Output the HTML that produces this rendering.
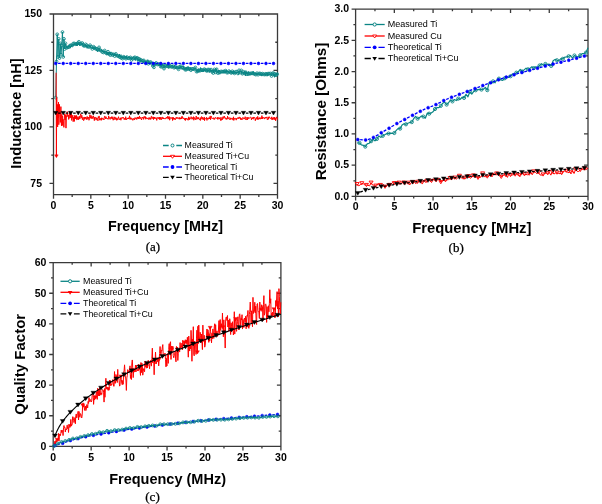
<!DOCTYPE html>
<html><head><meta charset="utf-8"><style>
html,body{margin:0;padding:0;background:#fff;}
svg{display:block;filter:blur(0.35px);}
text{font-family:"Liberation Sans",sans-serif;fill:#000;}
</style></head><body>
<svg width="602" height="504" viewBox="0 0 602 504">
<rect width="602" height="504" fill="#fff"/>
<path d="M53.5,14.0H277.5V194.7H53.5ZM53.50,194.7v4.0M53.50,14.0v4.0M90.83,194.7v4.0M90.83,14.0v4.0M128.17,194.7v4.0M128.17,14.0v4.0M165.50,194.7v4.0M165.50,14.0v4.0M202.83,194.7v4.0M202.83,14.0v4.0M240.17,194.7v4.0M240.17,14.0v4.0M277.50,194.7v4.0M277.50,14.0v4.0M72.17,194.7v2.2M72.17,14.0v2.2M109.50,194.7v2.2M109.50,14.0v2.2M146.83,194.7v2.2M146.83,14.0v2.2M184.17,194.7v2.2M184.17,14.0v2.2M221.50,194.7v2.2M221.50,14.0v2.2M258.83,194.7v2.2M258.83,14.0v2.2M53.5,183.41h-4.0M277.5,183.41h-4.0M53.5,126.94h-4.0M277.5,126.94h-4.0M53.5,70.47h-4.0M277.5,70.47h-4.0M53.5,14.00h-4.0M277.5,14.00h-4.0M53.5,155.17h-2.2M277.5,155.17h-2.2M53.5,98.70h-2.2M277.5,98.70h-2.2M53.5,42.23h-2.2M277.5,42.23h-2.2" fill="none" stroke="#3a3a3a" stroke-width="1.3"/>
<text x="53.50" y="208.6" text-anchor="middle" font-size="10.5" font-weight="bold">0</text>
<text x="90.83" y="208.6" text-anchor="middle" font-size="10.5" font-weight="bold">5</text>
<text x="128.17" y="208.6" text-anchor="middle" font-size="10.5" font-weight="bold">10</text>
<text x="165.50" y="208.6" text-anchor="middle" font-size="10.5" font-weight="bold">15</text>
<text x="202.83" y="208.6" text-anchor="middle" font-size="10.5" font-weight="bold">20</text>
<text x="240.17" y="208.6" text-anchor="middle" font-size="10.5" font-weight="bold">25</text>
<text x="277.50" y="208.6" text-anchor="middle" font-size="10.5" font-weight="bold">30</text>
<text x="42.0" y="186.71" text-anchor="end" font-size="10.5" font-weight="bold">75</text>
<text x="42.0" y="130.24" text-anchor="end" font-size="10.5" font-weight="bold">100</text>
<text x="42.0" y="73.77" text-anchor="end" font-size="10.5" font-weight="bold">125</text>
<text x="42.0" y="17.30" text-anchor="end" font-size="10.5" font-weight="bold">150</text>
<polyline points="55.74,97.57 56.49,61.43 57.23,34.33 57.98,56.92 58.73,38.85 59.47,58.05 60.22,43.36 60.97,54.66 61.71,45.62 62.46,32.07 63.21,56.92 63.95,38.85 64.70,49.01 65.45,43.36 65.82,46.46 66.19,45.54 66.57,47.74 66.94,46.64 67.31,48.18 67.69,47.39 68.06,47.92 68.43,46.01 68.81,47.09 69.18,45.26 69.55,45.31 69.93,45.61 70.30,48.16 70.67,45.85 71.05,45.22 71.42,44.96 71.79,46.74 72.17,45.48 72.54,45.98 72.91,45.71 73.29,43.53 73.66,45.56 74.03,44.61 74.41,43.50 74.78,45.08 75.15,44.48 75.53,44.17 75.90,44.16 76.27,45.56 76.65,44.04 77.02,42.56 77.39,45.81 77.77,43.08 78.14,43.91 78.51,44.77 78.89,41.81 79.26,43.24 79.63,45.49 80.01,44.10 80.38,43.60 80.75,44.53 81.13,43.62 81.50,44.55 81.87,43.81 82.25,43.04 82.62,45.53 82.99,44.64 83.37,45.50 83.74,44.94 84.11,46.54 84.49,45.97 84.86,45.65 85.23,44.52 85.61,44.36 85.98,47.26 86.35,46.77 86.73,45.24 87.10,48.32 87.47,46.70 87.85,46.39 88.22,44.96 88.59,45.71 88.97,46.97 89.34,47.13 89.71,47.11 90.09,45.22 90.46,47.54 90.83,47.52 91.21,46.90 91.58,47.55 91.95,47.76 92.33,48.92 92.70,47.80 93.07,48.41 93.45,46.72 93.82,47.43 94.19,48.32 94.57,47.66 94.94,48.93 95.31,47.48 95.69,48.81 96.06,48.27 96.43,50.51 96.81,48.79 97.18,51.21 97.55,51.72 97.93,49.89 98.30,50.69 98.67,49.60 99.05,47.37 99.42,50.96 99.79,50.84 100.17,50.02 100.54,49.81 100.91,50.68 101.29,50.83 101.66,49.92 102.03,50.24 102.41,52.11 102.78,51.15 103.15,51.14 103.53,52.49 103.90,51.12 104.27,52.50 104.65,50.54 105.02,51.54 105.39,51.77 105.77,52.66 106.14,52.24 106.51,54.48 106.89,53.61 107.26,52.04 107.63,54.97 108.01,51.72 108.38,54.77 108.75,52.05 109.13,53.98 109.50,52.26 109.87,53.10 110.25,55.10 110.62,52.06 110.99,51.95 111.37,53.77 111.74,54.11 112.11,54.09 112.49,55.12 112.86,52.89 113.23,54.85 113.61,54.40 113.98,55.34 114.35,55.26 114.73,56.10 115.10,53.34 115.47,55.04 115.85,53.87 116.22,55.05 116.59,55.95 116.97,55.63 117.34,55.99 117.71,55.45 118.09,55.98 118.46,55.99 118.83,57.30 119.21,56.74 119.58,54.06 119.95,56.77 120.33,57.29 120.70,55.81 121.07,54.68 121.45,58.00 121.82,56.68 122.19,57.24 122.57,58.60 122.94,55.86 123.31,56.79 123.69,56.76 124.06,57.77 124.43,56.49 124.81,57.69 125.18,57.31 125.55,58.48 125.93,58.67 126.30,55.87 126.67,58.02 127.05,57.19 127.42,57.63 127.79,58.16 128.17,58.31 128.54,57.09 128.91,58.22 129.29,58.12 129.66,57.99 130.03,56.76 130.41,57.39 130.78,57.79 131.15,58.93 131.53,59.93 131.90,57.36 132.27,57.42 132.65,58.74 133.02,58.04 133.39,57.84 133.77,57.85 134.14,57.82 134.51,59.45 134.89,57.29 135.26,60.48 135.63,58.18 136.01,58.66 136.38,58.31 136.75,57.25 137.13,57.77 137.50,60.82 137.87,61.51 138.25,58.75 138.62,60.90 138.99,59.85 139.37,58.97 139.74,61.85 140.11,62.46 140.49,59.87 140.86,60.20 141.23,60.61 141.61,60.38 141.98,61.48 142.35,62.31 142.73,60.88 143.10,61.89 143.47,62.74 143.85,60.41 144.22,61.14 144.59,60.71 144.97,62.39 145.34,62.11 145.71,62.60 146.09,62.57 146.46,61.45 146.83,62.65 147.21,61.47 147.58,61.59 147.95,59.79 148.33,63.75 148.70,61.27 149.07,62.48 149.45,62.50 149.82,64.22 150.19,63.20 150.57,61.95 150.94,62.98 151.31,62.89 151.69,63.41 152.06,61.88 152.43,63.31 152.81,65.86 153.18,64.26 153.55,65.79 153.93,67.34 154.30,64.36 154.67,62.35 155.05,63.89 155.42,65.36 155.79,65.18 156.17,62.93 156.54,64.12 156.91,64.32 157.29,64.52 157.66,64.50 158.03,63.71 158.41,64.07 158.78,64.53 159.15,66.02 159.53,64.34 159.90,65.75 160.27,63.81 160.65,66.55 161.02,65.33 161.39,65.25 161.77,66.80 162.14,63.42 162.51,63.77 162.89,66.00 163.26,64.67 163.63,65.17 164.01,68.60 164.38,65.43 164.75,65.83 165.13,65.73 165.50,67.09 165.87,66.23 166.25,66.18 166.62,64.69 166.99,65.71 167.37,66.14 167.74,64.46 168.11,66.86 168.49,66.73 168.86,68.39 169.23,64.61 169.61,65.34 169.98,65.44 170.35,65.77 170.73,66.45 171.10,66.38 171.47,66.95 171.85,66.94 172.22,66.70 172.59,65.10 172.97,66.22 173.34,66.96 173.71,67.60 174.09,67.71 174.46,65.22 174.83,66.51 175.21,67.05 175.58,67.56 175.95,68.47 176.33,67.33 176.70,66.32 177.07,67.79 177.45,67.65 177.82,67.69 178.19,67.36 178.57,69.33 178.94,67.84 179.31,68.58 179.69,66.67 180.06,68.58 180.43,67.11 180.81,66.08 181.18,68.21 181.55,68.58 181.93,67.73 182.30,68.00 182.67,69.16 183.05,67.57 183.42,65.86 183.79,68.48 184.17,68.46 184.54,69.46 184.91,67.97 185.29,69.79 185.66,69.68 186.03,67.03 186.41,69.54 186.78,67.35 187.15,66.90 187.53,68.37 187.90,68.09 188.27,66.55 188.65,69.03 189.02,69.52 189.39,70.43 189.77,68.90 190.14,67.32 190.51,67.95 190.89,70.15 191.26,70.09 191.63,69.74 192.01,68.89 192.38,69.49 192.75,69.06 193.13,69.01 193.50,69.73 193.87,69.48 194.25,69.24 194.62,69.61 194.99,68.99 195.37,67.48 195.74,68.96 196.11,69.61 196.49,71.61 196.86,69.31 197.23,71.98 197.61,71.41 197.98,68.89 198.35,69.09 198.73,70.09 199.10,71.89 199.47,70.41 199.85,70.78 200.22,69.33 200.59,67.53 200.97,69.86 201.34,71.02 201.71,71.49 202.09,70.26 202.46,70.42 202.83,71.55 203.21,70.14 203.58,71.60 203.95,69.07 204.33,69.15 204.70,69.15 205.07,70.94 205.45,69.85 205.82,70.60 206.19,70.92 206.57,70.88 206.94,71.99 207.31,72.18 207.69,69.67 208.06,70.81 208.43,70.37 208.81,69.51 209.18,72.62 209.55,71.57 209.93,70.51 210.30,70.29 210.67,71.18 211.05,69.61 211.42,70.56 211.79,72.18 212.17,71.89 212.54,69.95 212.91,70.35 213.29,73.04 213.66,69.40 214.03,70.27 214.41,69.44 214.78,71.42 215.15,71.34 215.53,72.30 215.90,68.18 216.27,71.26 216.65,69.29 217.02,71.84 217.39,70.95 217.77,73.04 218.14,71.61 218.51,70.08 218.89,72.63 219.26,70.03 219.63,70.88 220.01,72.46 220.38,71.87 220.75,71.85 221.13,71.41 221.50,71.98 221.87,72.33 222.25,71.76 222.62,72.60 222.99,72.92 223.37,71.54 223.74,70.51 224.11,73.26 224.49,71.55 224.86,72.31 225.23,72.70 225.61,70.66 225.98,72.23 226.35,69.98 226.73,72.57 227.10,71.28 227.47,71.99 227.85,72.61 228.22,71.12 228.59,71.98 228.97,71.15 229.34,71.90 229.71,73.10 230.09,72.01 230.46,71.86 230.83,70.86 231.21,72.99 231.58,72.03 231.95,73.95 232.33,71.29 232.70,73.27 233.07,74.11 233.45,72.16 233.82,70.87 234.19,73.86 234.57,73.39 234.94,73.03 235.31,73.48 235.69,71.80 236.06,73.17 236.43,73.09 236.81,71.64 237.18,73.17 237.55,71.86 237.93,73.46 238.30,73.76 238.67,74.48 239.05,70.33 239.42,72.82 239.79,72.20 240.17,72.54 240.54,72.34 240.91,72.49 241.29,70.41 241.66,73.77 242.03,74.37 242.41,73.78 242.78,74.17 243.15,71.84 243.53,71.78 243.90,73.82 244.27,74.33 244.65,73.18 245.02,71.23 245.39,76.01 245.77,72.25 246.14,74.09 246.51,71.72 246.89,74.14 247.26,73.26 247.63,74.67 248.01,74.09 248.38,71.45 248.75,72.11 249.13,73.51 249.50,74.06 249.87,75.24 250.25,73.57 250.62,73.19 250.99,73.27 251.37,73.30 251.74,74.49 252.11,73.32 252.49,73.31 252.86,71.83 253.23,71.20 253.61,73.49 253.98,74.22 254.35,73.45 254.73,74.09 255.10,74.26 255.47,73.51 255.85,74.64 256.22,72.80 256.59,73.62 256.97,73.25 257.34,73.76 257.71,74.39 258.09,74.66 258.46,73.88 258.83,74.25 259.21,73.39 259.58,73.68 259.95,75.23 260.33,73.63 260.70,75.25 261.07,74.45 261.45,74.10 261.82,76.13 262.19,73.71 262.57,73.66 262.94,74.03 263.31,74.35 263.69,74.31 264.06,75.01 264.43,74.23 264.81,74.57 265.18,73.86 265.55,75.34 265.93,73.73 266.30,73.86 266.67,74.20 267.05,74.55 267.42,73.45 267.79,75.97 268.17,73.59 268.54,73.85 268.91,73.83 269.29,73.73 269.66,74.92 270.03,74.49 270.41,73.50 270.78,73.75 271.15,74.02 271.53,75.98 271.90,73.68 272.27,72.98 272.65,73.18 273.02,74.07 273.39,76.11 273.77,73.31 274.14,74.55 274.51,77.27 274.89,74.00 275.26,76.12 275.63,75.92 276.01,75.19 276.38,73.05 276.75,74.92 277.13,74.21 277.50,72.56" fill="none" stroke="#0b8585" stroke-width="1.0" stroke-linejoin="round" />
<path d="M54.34,97.57a1.4,1.4 0 1,0 2.8,0a1.4,1.4 0 1,0 -2.8,0M55.09,61.43a1.4,1.4 0 1,0 2.8,0a1.4,1.4 0 1,0 -2.8,0M55.83,34.33a1.4,1.4 0 1,0 2.8,0a1.4,1.4 0 1,0 -2.8,0M56.58,56.92a1.4,1.4 0 1,0 2.8,0a1.4,1.4 0 1,0 -2.8,0M57.33,38.85a1.4,1.4 0 1,0 2.8,0a1.4,1.4 0 1,0 -2.8,0M58.07,58.05a1.4,1.4 0 1,0 2.8,0a1.4,1.4 0 1,0 -2.8,0M58.82,43.36a1.4,1.4 0 1,0 2.8,0a1.4,1.4 0 1,0 -2.8,0M59.57,54.66a1.4,1.4 0 1,0 2.8,0a1.4,1.4 0 1,0 -2.8,0M60.31,45.62a1.4,1.4 0 1,0 2.8,0a1.4,1.4 0 1,0 -2.8,0M61.06,32.07a1.4,1.4 0 1,0 2.8,0a1.4,1.4 0 1,0 -2.8,0M61.81,56.92a1.4,1.4 0 1,0 2.8,0a1.4,1.4 0 1,0 -2.8,0M62.55,38.85a1.4,1.4 0 1,0 2.8,0a1.4,1.4 0 1,0 -2.8,0M63.30,49.01a1.4,1.4 0 1,0 2.8,0a1.4,1.4 0 1,0 -2.8,0" fill="none" stroke="#0b8585" stroke-width="0.85"/>
<path d="M64.05,43.36a1.4,1.4 0 1,0 2.8,0a1.4,1.4 0 1,0 -2.8,0M65.17,47.74a1.4,1.4 0 1,0 2.8,0a1.4,1.4 0 1,0 -2.8,0M66.29,47.39a1.4,1.4 0 1,0 2.8,0a1.4,1.4 0 1,0 -2.8,0M67.41,47.09a1.4,1.4 0 1,0 2.8,0a1.4,1.4 0 1,0 -2.8,0M68.53,45.61a1.4,1.4 0 1,0 2.8,0a1.4,1.4 0 1,0 -2.8,0M69.65,45.22a1.4,1.4 0 1,0 2.8,0a1.4,1.4 0 1,0 -2.8,0M70.77,45.48a1.4,1.4 0 1,0 2.8,0a1.4,1.4 0 1,0 -2.8,0M71.89,43.53a1.4,1.4 0 1,0 2.8,0a1.4,1.4 0 1,0 -2.8,0M73.01,43.50a1.4,1.4 0 1,0 2.8,0a1.4,1.4 0 1,0 -2.8,0M74.13,44.17a1.4,1.4 0 1,0 2.8,0a1.4,1.4 0 1,0 -2.8,0M75.25,44.04a1.4,1.4 0 1,0 2.8,0a1.4,1.4 0 1,0 -2.8,0M76.37,43.08a1.4,1.4 0 1,0 2.8,0a1.4,1.4 0 1,0 -2.8,0M77.49,41.81a1.4,1.4 0 1,0 2.8,0a1.4,1.4 0 1,0 -2.8,0M78.61,44.10a1.4,1.4 0 1,0 2.8,0a1.4,1.4 0 1,0 -2.8,0M79.73,43.62a1.4,1.4 0 1,0 2.8,0a1.4,1.4 0 1,0 -2.8,0M80.85,43.04a1.4,1.4 0 1,0 2.8,0a1.4,1.4 0 1,0 -2.8,0M81.97,45.50a1.4,1.4 0 1,0 2.8,0a1.4,1.4 0 1,0 -2.8,0M83.09,45.97a1.4,1.4 0 1,0 2.8,0a1.4,1.4 0 1,0 -2.8,0M84.21,44.36a1.4,1.4 0 1,0 2.8,0a1.4,1.4 0 1,0 -2.8,0M85.33,45.24a1.4,1.4 0 1,0 2.8,0a1.4,1.4 0 1,0 -2.8,0M86.45,46.39a1.4,1.4 0 1,0 2.8,0a1.4,1.4 0 1,0 -2.8,0M87.57,46.97a1.4,1.4 0 1,0 2.8,0a1.4,1.4 0 1,0 -2.8,0M88.69,45.22a1.4,1.4 0 1,0 2.8,0a1.4,1.4 0 1,0 -2.8,0M89.81,46.90a1.4,1.4 0 1,0 2.8,0a1.4,1.4 0 1,0 -2.8,0M90.93,48.92a1.4,1.4 0 1,0 2.8,0a1.4,1.4 0 1,0 -2.8,0M92.05,46.72a1.4,1.4 0 1,0 2.8,0a1.4,1.4 0 1,0 -2.8,0M93.17,47.66a1.4,1.4 0 1,0 2.8,0a1.4,1.4 0 1,0 -2.8,0M94.29,48.81a1.4,1.4 0 1,0 2.8,0a1.4,1.4 0 1,0 -2.8,0M95.41,48.79a1.4,1.4 0 1,0 2.8,0a1.4,1.4 0 1,0 -2.8,0M96.53,49.89a1.4,1.4 0 1,0 2.8,0a1.4,1.4 0 1,0 -2.8,0M97.65,47.37a1.4,1.4 0 1,0 2.8,0a1.4,1.4 0 1,0 -2.8,0M98.77,50.02a1.4,1.4 0 1,0 2.8,0a1.4,1.4 0 1,0 -2.8,0M99.89,50.83a1.4,1.4 0 1,0 2.8,0a1.4,1.4 0 1,0 -2.8,0M101.01,52.11a1.4,1.4 0 1,0 2.8,0a1.4,1.4 0 1,0 -2.8,0M102.13,52.49a1.4,1.4 0 1,0 2.8,0a1.4,1.4 0 1,0 -2.8,0M103.25,50.54a1.4,1.4 0 1,0 2.8,0a1.4,1.4 0 1,0 -2.8,0M104.37,52.66a1.4,1.4 0 1,0 2.8,0a1.4,1.4 0 1,0 -2.8,0M105.49,53.61a1.4,1.4 0 1,0 2.8,0a1.4,1.4 0 1,0 -2.8,0M106.61,51.72a1.4,1.4 0 1,0 2.8,0a1.4,1.4 0 1,0 -2.8,0M107.73,53.98a1.4,1.4 0 1,0 2.8,0a1.4,1.4 0 1,0 -2.8,0M108.85,55.10a1.4,1.4 0 1,0 2.8,0a1.4,1.4 0 1,0 -2.8,0M109.97,53.77a1.4,1.4 0 1,0 2.8,0a1.4,1.4 0 1,0 -2.8,0M111.09,55.12a1.4,1.4 0 1,0 2.8,0a1.4,1.4 0 1,0 -2.8,0M112.21,54.40a1.4,1.4 0 1,0 2.8,0a1.4,1.4 0 1,0 -2.8,0M113.33,56.10a1.4,1.4 0 1,0 2.8,0a1.4,1.4 0 1,0 -2.8,0M114.45,53.87a1.4,1.4 0 1,0 2.8,0a1.4,1.4 0 1,0 -2.8,0M115.57,55.63a1.4,1.4 0 1,0 2.8,0a1.4,1.4 0 1,0 -2.8,0M116.69,55.98a1.4,1.4 0 1,0 2.8,0a1.4,1.4 0 1,0 -2.8,0M117.81,56.74a1.4,1.4 0 1,0 2.8,0a1.4,1.4 0 1,0 -2.8,0M118.93,57.29a1.4,1.4 0 1,0 2.8,0a1.4,1.4 0 1,0 -2.8,0M120.05,58.00a1.4,1.4 0 1,0 2.8,0a1.4,1.4 0 1,0 -2.8,0M121.17,58.60a1.4,1.4 0 1,0 2.8,0a1.4,1.4 0 1,0 -2.8,0M122.29,56.76a1.4,1.4 0 1,0 2.8,0a1.4,1.4 0 1,0 -2.8,0M123.41,57.69a1.4,1.4 0 1,0 2.8,0a1.4,1.4 0 1,0 -2.8,0M124.53,58.67a1.4,1.4 0 1,0 2.8,0a1.4,1.4 0 1,0 -2.8,0M125.65,57.19a1.4,1.4 0 1,0 2.8,0a1.4,1.4 0 1,0 -2.8,0M126.77,58.31a1.4,1.4 0 1,0 2.8,0a1.4,1.4 0 1,0 -2.8,0M127.89,58.12a1.4,1.4 0 1,0 2.8,0a1.4,1.4 0 1,0 -2.8,0M129.01,57.39a1.4,1.4 0 1,0 2.8,0a1.4,1.4 0 1,0 -2.8,0M130.13,59.93a1.4,1.4 0 1,0 2.8,0a1.4,1.4 0 1,0 -2.8,0M131.25,58.74a1.4,1.4 0 1,0 2.8,0a1.4,1.4 0 1,0 -2.8,0M132.37,57.85a1.4,1.4 0 1,0 2.8,0a1.4,1.4 0 1,0 -2.8,0M133.49,57.29a1.4,1.4 0 1,0 2.8,0a1.4,1.4 0 1,0 -2.8,0M134.61,58.66a1.4,1.4 0 1,0 2.8,0a1.4,1.4 0 1,0 -2.8,0M135.73,57.77a1.4,1.4 0 1,0 2.8,0a1.4,1.4 0 1,0 -2.8,0M136.85,58.75a1.4,1.4 0 1,0 2.8,0a1.4,1.4 0 1,0 -2.8,0M137.97,58.97a1.4,1.4 0 1,0 2.8,0a1.4,1.4 0 1,0 -2.8,0M139.09,59.87a1.4,1.4 0 1,0 2.8,0a1.4,1.4 0 1,0 -2.8,0M140.21,60.38a1.4,1.4 0 1,0 2.8,0a1.4,1.4 0 1,0 -2.8,0M141.33,60.88a1.4,1.4 0 1,0 2.8,0a1.4,1.4 0 1,0 -2.8,0M142.45,60.41a1.4,1.4 0 1,0 2.8,0a1.4,1.4 0 1,0 -2.8,0M143.57,62.39a1.4,1.4 0 1,0 2.8,0a1.4,1.4 0 1,0 -2.8,0M144.69,62.57a1.4,1.4 0 1,0 2.8,0a1.4,1.4 0 1,0 -2.8,0M145.81,61.47a1.4,1.4 0 1,0 2.8,0a1.4,1.4 0 1,0 -2.8,0M146.93,63.75a1.4,1.4 0 1,0 2.8,0a1.4,1.4 0 1,0 -2.8,0M148.05,62.50a1.4,1.4 0 1,0 2.8,0a1.4,1.4 0 1,0 -2.8,0M149.17,61.95a1.4,1.4 0 1,0 2.8,0a1.4,1.4 0 1,0 -2.8,0M150.29,63.41a1.4,1.4 0 1,0 2.8,0a1.4,1.4 0 1,0 -2.8,0M151.41,65.86a1.4,1.4 0 1,0 2.8,0a1.4,1.4 0 1,0 -2.8,0M152.53,67.34a1.4,1.4 0 1,0 2.8,0a1.4,1.4 0 1,0 -2.8,0M153.65,63.89a1.4,1.4 0 1,0 2.8,0a1.4,1.4 0 1,0 -2.8,0M154.77,62.93a1.4,1.4 0 1,0 2.8,0a1.4,1.4 0 1,0 -2.8,0M155.89,64.52a1.4,1.4 0 1,0 2.8,0a1.4,1.4 0 1,0 -2.8,0M157.01,64.07a1.4,1.4 0 1,0 2.8,0a1.4,1.4 0 1,0 -2.8,0M158.13,64.34a1.4,1.4 0 1,0 2.8,0a1.4,1.4 0 1,0 -2.8,0M159.25,66.55a1.4,1.4 0 1,0 2.8,0a1.4,1.4 0 1,0 -2.8,0M160.37,66.80a1.4,1.4 0 1,0 2.8,0a1.4,1.4 0 1,0 -2.8,0M161.49,66.00a1.4,1.4 0 1,0 2.8,0a1.4,1.4 0 1,0 -2.8,0M162.61,68.60a1.4,1.4 0 1,0 2.8,0a1.4,1.4 0 1,0 -2.8,0M163.73,65.73a1.4,1.4 0 1,0 2.8,0a1.4,1.4 0 1,0 -2.8,0M164.85,66.18a1.4,1.4 0 1,0 2.8,0a1.4,1.4 0 1,0 -2.8,0M165.97,66.14a1.4,1.4 0 1,0 2.8,0a1.4,1.4 0 1,0 -2.8,0M167.09,66.73a1.4,1.4 0 1,0 2.8,0a1.4,1.4 0 1,0 -2.8,0M168.21,65.34a1.4,1.4 0 1,0 2.8,0a1.4,1.4 0 1,0 -2.8,0M169.33,66.45a1.4,1.4 0 1,0 2.8,0a1.4,1.4 0 1,0 -2.8,0M170.45,66.94a1.4,1.4 0 1,0 2.8,0a1.4,1.4 0 1,0 -2.8,0M171.57,66.22a1.4,1.4 0 1,0 2.8,0a1.4,1.4 0 1,0 -2.8,0M172.69,67.71a1.4,1.4 0 1,0 2.8,0a1.4,1.4 0 1,0 -2.8,0M173.81,67.05a1.4,1.4 0 1,0 2.8,0a1.4,1.4 0 1,0 -2.8,0M174.93,67.33a1.4,1.4 0 1,0 2.8,0a1.4,1.4 0 1,0 -2.8,0M176.05,67.65a1.4,1.4 0 1,0 2.8,0a1.4,1.4 0 1,0 -2.8,0M177.17,69.33a1.4,1.4 0 1,0 2.8,0a1.4,1.4 0 1,0 -2.8,0M178.29,66.67a1.4,1.4 0 1,0 2.8,0a1.4,1.4 0 1,0 -2.8,0M179.41,66.08a1.4,1.4 0 1,0 2.8,0a1.4,1.4 0 1,0 -2.8,0M180.53,67.73a1.4,1.4 0 1,0 2.8,0a1.4,1.4 0 1,0 -2.8,0M181.65,67.57a1.4,1.4 0 1,0 2.8,0a1.4,1.4 0 1,0 -2.8,0M182.77,68.46a1.4,1.4 0 1,0 2.8,0a1.4,1.4 0 1,0 -2.8,0M183.89,69.79a1.4,1.4 0 1,0 2.8,0a1.4,1.4 0 1,0 -2.8,0M185.01,69.54a1.4,1.4 0 1,0 2.8,0a1.4,1.4 0 1,0 -2.8,0M186.13,68.37a1.4,1.4 0 1,0 2.8,0a1.4,1.4 0 1,0 -2.8,0M187.25,69.03a1.4,1.4 0 1,0 2.8,0a1.4,1.4 0 1,0 -2.8,0M188.37,68.90a1.4,1.4 0 1,0 2.8,0a1.4,1.4 0 1,0 -2.8,0M189.49,70.15a1.4,1.4 0 1,0 2.8,0a1.4,1.4 0 1,0 -2.8,0M190.61,68.89a1.4,1.4 0 1,0 2.8,0a1.4,1.4 0 1,0 -2.8,0M191.73,69.01a1.4,1.4 0 1,0 2.8,0a1.4,1.4 0 1,0 -2.8,0M192.85,69.24a1.4,1.4 0 1,0 2.8,0a1.4,1.4 0 1,0 -2.8,0M193.97,67.48a1.4,1.4 0 1,0 2.8,0a1.4,1.4 0 1,0 -2.8,0M195.09,71.61a1.4,1.4 0 1,0 2.8,0a1.4,1.4 0 1,0 -2.8,0M196.21,71.41a1.4,1.4 0 1,0 2.8,0a1.4,1.4 0 1,0 -2.8,0M197.33,70.09a1.4,1.4 0 1,0 2.8,0a1.4,1.4 0 1,0 -2.8,0M198.45,70.78a1.4,1.4 0 1,0 2.8,0a1.4,1.4 0 1,0 -2.8,0M199.57,69.86a1.4,1.4 0 1,0 2.8,0a1.4,1.4 0 1,0 -2.8,0M200.69,70.26a1.4,1.4 0 1,0 2.8,0a1.4,1.4 0 1,0 -2.8,0M201.81,70.14a1.4,1.4 0 1,0 2.8,0a1.4,1.4 0 1,0 -2.8,0M202.93,69.15a1.4,1.4 0 1,0 2.8,0a1.4,1.4 0 1,0 -2.8,0M204.05,69.85a1.4,1.4 0 1,0 2.8,0a1.4,1.4 0 1,0 -2.8,0M205.17,70.88a1.4,1.4 0 1,0 2.8,0a1.4,1.4 0 1,0 -2.8,0M206.29,69.67a1.4,1.4 0 1,0 2.8,0a1.4,1.4 0 1,0 -2.8,0M207.41,69.51a1.4,1.4 0 1,0 2.8,0a1.4,1.4 0 1,0 -2.8,0M208.53,70.51a1.4,1.4 0 1,0 2.8,0a1.4,1.4 0 1,0 -2.8,0M209.65,69.61a1.4,1.4 0 1,0 2.8,0a1.4,1.4 0 1,0 -2.8,0M210.77,71.89a1.4,1.4 0 1,0 2.8,0a1.4,1.4 0 1,0 -2.8,0M211.89,73.04a1.4,1.4 0 1,0 2.8,0a1.4,1.4 0 1,0 -2.8,0M213.01,69.44a1.4,1.4 0 1,0 2.8,0a1.4,1.4 0 1,0 -2.8,0M214.13,72.30a1.4,1.4 0 1,0 2.8,0a1.4,1.4 0 1,0 -2.8,0M215.25,69.29a1.4,1.4 0 1,0 2.8,0a1.4,1.4 0 1,0 -2.8,0M216.37,73.04a1.4,1.4 0 1,0 2.8,0a1.4,1.4 0 1,0 -2.8,0M217.49,72.63a1.4,1.4 0 1,0 2.8,0a1.4,1.4 0 1,0 -2.8,0M218.61,72.46a1.4,1.4 0 1,0 2.8,0a1.4,1.4 0 1,0 -2.8,0M219.73,71.41a1.4,1.4 0 1,0 2.8,0a1.4,1.4 0 1,0 -2.8,0M220.85,71.76a1.4,1.4 0 1,0 2.8,0a1.4,1.4 0 1,0 -2.8,0M221.97,71.54a1.4,1.4 0 1,0 2.8,0a1.4,1.4 0 1,0 -2.8,0M223.09,71.55a1.4,1.4 0 1,0 2.8,0a1.4,1.4 0 1,0 -2.8,0M224.21,70.66a1.4,1.4 0 1,0 2.8,0a1.4,1.4 0 1,0 -2.8,0M225.33,72.57a1.4,1.4 0 1,0 2.8,0a1.4,1.4 0 1,0 -2.8,0M226.45,72.61a1.4,1.4 0 1,0 2.8,0a1.4,1.4 0 1,0 -2.8,0M227.57,71.15a1.4,1.4 0 1,0 2.8,0a1.4,1.4 0 1,0 -2.8,0M228.69,72.01a1.4,1.4 0 1,0 2.8,0a1.4,1.4 0 1,0 -2.8,0M229.81,72.99a1.4,1.4 0 1,0 2.8,0a1.4,1.4 0 1,0 -2.8,0M230.93,71.29a1.4,1.4 0 1,0 2.8,0a1.4,1.4 0 1,0 -2.8,0M232.05,72.16a1.4,1.4 0 1,0 2.8,0a1.4,1.4 0 1,0 -2.8,0M233.17,73.39a1.4,1.4 0 1,0 2.8,0a1.4,1.4 0 1,0 -2.8,0M234.29,71.80a1.4,1.4 0 1,0 2.8,0a1.4,1.4 0 1,0 -2.8,0M235.41,71.64a1.4,1.4 0 1,0 2.8,0a1.4,1.4 0 1,0 -2.8,0M236.53,73.46a1.4,1.4 0 1,0 2.8,0a1.4,1.4 0 1,0 -2.8,0M237.65,70.33a1.4,1.4 0 1,0 2.8,0a1.4,1.4 0 1,0 -2.8,0M238.77,72.54a1.4,1.4 0 1,0 2.8,0a1.4,1.4 0 1,0 -2.8,0M239.89,70.41a1.4,1.4 0 1,0 2.8,0a1.4,1.4 0 1,0 -2.8,0M241.01,73.78a1.4,1.4 0 1,0 2.8,0a1.4,1.4 0 1,0 -2.8,0M242.13,71.78a1.4,1.4 0 1,0 2.8,0a1.4,1.4 0 1,0 -2.8,0M243.25,73.18a1.4,1.4 0 1,0 2.8,0a1.4,1.4 0 1,0 -2.8,0M244.37,72.25a1.4,1.4 0 1,0 2.8,0a1.4,1.4 0 1,0 -2.8,0M245.49,74.14a1.4,1.4 0 1,0 2.8,0a1.4,1.4 0 1,0 -2.8,0M246.61,74.09a1.4,1.4 0 1,0 2.8,0a1.4,1.4 0 1,0 -2.8,0M247.73,73.51a1.4,1.4 0 1,0 2.8,0a1.4,1.4 0 1,0 -2.8,0M248.85,73.57a1.4,1.4 0 1,0 2.8,0a1.4,1.4 0 1,0 -2.8,0M249.97,73.30a1.4,1.4 0 1,0 2.8,0a1.4,1.4 0 1,0 -2.8,0M251.09,73.31a1.4,1.4 0 1,0 2.8,0a1.4,1.4 0 1,0 -2.8,0M252.21,73.49a1.4,1.4 0 1,0 2.8,0a1.4,1.4 0 1,0 -2.8,0M253.33,74.09a1.4,1.4 0 1,0 2.8,0a1.4,1.4 0 1,0 -2.8,0M254.45,74.64a1.4,1.4 0 1,0 2.8,0a1.4,1.4 0 1,0 -2.8,0M255.57,73.25a1.4,1.4 0 1,0 2.8,0a1.4,1.4 0 1,0 -2.8,0M256.69,74.66a1.4,1.4 0 1,0 2.8,0a1.4,1.4 0 1,0 -2.8,0M257.81,73.39a1.4,1.4 0 1,0 2.8,0a1.4,1.4 0 1,0 -2.8,0M258.93,73.63a1.4,1.4 0 1,0 2.8,0a1.4,1.4 0 1,0 -2.8,0M260.05,74.10a1.4,1.4 0 1,0 2.8,0a1.4,1.4 0 1,0 -2.8,0M261.17,73.66a1.4,1.4 0 1,0 2.8,0a1.4,1.4 0 1,0 -2.8,0M262.29,74.31a1.4,1.4 0 1,0 2.8,0a1.4,1.4 0 1,0 -2.8,0M263.41,74.57a1.4,1.4 0 1,0 2.8,0a1.4,1.4 0 1,0 -2.8,0M264.53,73.73a1.4,1.4 0 1,0 2.8,0a1.4,1.4 0 1,0 -2.8,0M265.65,74.55a1.4,1.4 0 1,0 2.8,0a1.4,1.4 0 1,0 -2.8,0M266.77,73.59a1.4,1.4 0 1,0 2.8,0a1.4,1.4 0 1,0 -2.8,0M267.89,73.73a1.4,1.4 0 1,0 2.8,0a1.4,1.4 0 1,0 -2.8,0M269.01,73.50a1.4,1.4 0 1,0 2.8,0a1.4,1.4 0 1,0 -2.8,0M270.13,75.98a1.4,1.4 0 1,0 2.8,0a1.4,1.4 0 1,0 -2.8,0M271.25,73.18a1.4,1.4 0 1,0 2.8,0a1.4,1.4 0 1,0 -2.8,0M272.37,73.31a1.4,1.4 0 1,0 2.8,0a1.4,1.4 0 1,0 -2.8,0M273.49,74.00a1.4,1.4 0 1,0 2.8,0a1.4,1.4 0 1,0 -2.8,0M274.61,75.19a1.4,1.4 0 1,0 2.8,0a1.4,1.4 0 1,0 -2.8,0M275.73,74.21a1.4,1.4 0 1,0 2.8,0a1.4,1.4 0 1,0 -2.8,0" fill="none" stroke="#0b8585" stroke-width="0.85"/>
<path d="M58.10,63.47L60.70,63.47M65.61,63.47L68.21,63.47M73.12,63.47L75.72,63.47M80.63,63.47L83.23,63.47M88.14,63.47L90.74,63.47M95.65,63.47L98.25,63.47M103.16,63.47L105.76,63.47M110.67,63.47L113.27,63.47M118.18,63.47L120.78,63.47M125.69,63.47L128.29,63.47M133.20,63.47L135.80,63.47M140.71,63.47L143.31,63.47M148.22,63.47L150.82,63.47M155.73,63.47L158.33,63.47M163.24,63.47L165.84,63.47M170.76,63.47L173.36,63.47M178.27,63.47L180.87,63.47M185.78,63.47L188.38,63.47M193.29,63.47L195.89,63.47M200.80,63.47L203.40,63.47M208.31,63.47L210.91,63.47M215.82,63.47L218.42,63.47M223.33,63.47L225.93,63.47M230.84,63.47L233.44,63.47M238.35,63.47L240.95,63.47M245.86,63.47L248.46,63.47M253.37,63.47L255.97,63.47M260.88,63.47L263.48,63.47M268.39,63.47L270.99,63.47" fill="none" stroke="#0000ff" stroke-width="1.3"/>
<path d="M54.35,63.47a1.35,1.35 0 1,0 2.7,0a1.35,1.35 0 1,0 -2.7,0M61.86,63.47a1.35,1.35 0 1,0 2.7,0a1.35,1.35 0 1,0 -2.7,0M69.37,63.47a1.35,1.35 0 1,0 2.7,0a1.35,1.35 0 1,0 -2.7,0M76.88,63.47a1.35,1.35 0 1,0 2.7,0a1.35,1.35 0 1,0 -2.7,0M84.39,63.47a1.35,1.35 0 1,0 2.7,0a1.35,1.35 0 1,0 -2.7,0M91.90,63.47a1.35,1.35 0 1,0 2.7,0a1.35,1.35 0 1,0 -2.7,0M99.41,63.47a1.35,1.35 0 1,0 2.7,0a1.35,1.35 0 1,0 -2.7,0M106.92,63.47a1.35,1.35 0 1,0 2.7,0a1.35,1.35 0 1,0 -2.7,0M114.43,63.47a1.35,1.35 0 1,0 2.7,0a1.35,1.35 0 1,0 -2.7,0M121.94,63.47a1.35,1.35 0 1,0 2.7,0a1.35,1.35 0 1,0 -2.7,0M129.45,63.47a1.35,1.35 0 1,0 2.7,0a1.35,1.35 0 1,0 -2.7,0M136.96,63.47a1.35,1.35 0 1,0 2.7,0a1.35,1.35 0 1,0 -2.7,0M144.47,63.47a1.35,1.35 0 1,0 2.7,0a1.35,1.35 0 1,0 -2.7,0M151.98,63.47a1.35,1.35 0 1,0 2.7,0a1.35,1.35 0 1,0 -2.7,0M159.49,63.47a1.35,1.35 0 1,0 2.7,0a1.35,1.35 0 1,0 -2.7,0M167.01,63.47a1.35,1.35 0 1,0 2.7,0a1.35,1.35 0 1,0 -2.7,0M174.52,63.47a1.35,1.35 0 1,0 2.7,0a1.35,1.35 0 1,0 -2.7,0M182.03,63.47a1.35,1.35 0 1,0 2.7,0a1.35,1.35 0 1,0 -2.7,0M189.54,63.47a1.35,1.35 0 1,0 2.7,0a1.35,1.35 0 1,0 -2.7,0M197.05,63.47a1.35,1.35 0 1,0 2.7,0a1.35,1.35 0 1,0 -2.7,0M204.56,63.47a1.35,1.35 0 1,0 2.7,0a1.35,1.35 0 1,0 -2.7,0M212.07,63.47a1.35,1.35 0 1,0 2.7,0a1.35,1.35 0 1,0 -2.7,0M219.58,63.47a1.35,1.35 0 1,0 2.7,0a1.35,1.35 0 1,0 -2.7,0M227.09,63.47a1.35,1.35 0 1,0 2.7,0a1.35,1.35 0 1,0 -2.7,0M234.60,63.47a1.35,1.35 0 1,0 2.7,0a1.35,1.35 0 1,0 -2.7,0M242.11,63.47a1.35,1.35 0 1,0 2.7,0a1.35,1.35 0 1,0 -2.7,0M249.62,63.47a1.35,1.35 0 1,0 2.7,0a1.35,1.35 0 1,0 -2.7,0M257.13,63.47a1.35,1.35 0 1,0 2.7,0a1.35,1.35 0 1,0 -2.7,0M264.64,63.47a1.35,1.35 0 1,0 2.7,0a1.35,1.35 0 1,0 -2.7,0M272.15,63.47a1.35,1.35 0 1,0 2.7,0a1.35,1.35 0 1,0 -2.7,0" fill="#0000ff" stroke="#0000ff" stroke-width="0.7"/>
<polyline points="56.11,72.73 56.41,156.30 56.71,97.57 57.01,120.16 57.31,104.35 57.61,126.94 57.91,106.61 58.20,117.90 58.50,102.09 58.80,124.68 59.10,117.64 59.40,104.35 59.70,113.93 60.00,111.24 60.29,122.42 60.59,119.06 60.89,106.61 61.19,122.65 61.49,125.83 61.79,114.50 62.09,117.70 62.39,115.95 62.68,125.50 62.98,119.16 63.28,120.21 63.58,121.35 63.88,127.37 64.18,118.95 64.48,113.75 64.77,115.96 65.07,119.98 65.37,117.62 65.67,114.62 65.97,128.14 66.27,118.06 66.57,115.60 66.87,115.14 67.16,111.58 67.46,113.67 67.76,116.57 68.06,116.63 68.36,115.06 68.66,119.42 68.96,117.80 69.25,114.84 69.55,111.66 69.85,118.18 70.15,117.85 70.45,117.14 70.75,113.86 71.05,117.82 71.35,113.65 71.64,120.40 71.94,118.26 72.24,118.29 72.54,115.72 72.84,115.10 73.14,121.61 73.44,120.08 73.73,116.98 74.03,119.40 74.33,121.44 74.63,115.39 74.93,116.69 75.23,116.72 75.53,118.91 75.83,115.58 76.12,118.38 76.42,115.51 76.72,119.81 77.02,119.67 77.32,117.46 77.62,119.32 77.92,116.54 78.21,117.39 78.51,119.72 78.81,117.78 79.11,118.59 79.41,116.20 79.71,119.11 80.01,118.75 80.31,115.75 80.60,113.93 80.90,114.41 81.20,117.85 81.50,117.59 81.80,115.34 82.10,118.19 82.40,119.62 82.69,117.79 82.99,117.25 83.29,119.34 83.59,120.65 83.89,120.29 84.19,116.96 84.49,119.20 84.79,118.24 85.08,117.70 85.38,117.09 85.68,118.53 85.98,117.29 86.28,119.35 86.58,118.57 86.88,119.53 87.17,116.43 87.47,118.10 87.77,119.11 88.07,118.56 88.37,118.38 88.67,117.11 88.97,120.26 89.27,119.49 89.56,118.59 89.86,114.70 90.16,116.82 90.46,118.24 90.76,117.16 91.06,115.42 91.36,118.41 91.65,118.58 91.95,116.56 92.25,117.49 92.55,117.27 92.85,118.76 93.15,115.73 93.45,116.01 93.75,117.43 94.04,117.30 94.34,120.60 94.64,117.37 94.94,118.37 95.24,117.62 95.54,117.33 95.84,118.55 96.13,120.15 96.43,117.72 96.73,119.02 97.03,118.54 97.33,118.86 97.63,118.56 97.93,120.82 98.23,116.78 98.52,117.88 98.82,116.92 99.12,115.94 99.42,118.15 99.72,120.20 100.02,119.18 100.32,119.53 100.61,118.74 100.91,118.10 101.21,120.39 101.51,117.82 101.81,119.85 102.11,117.88 102.41,118.32 102.71,118.54 103.00,118.28 103.30,118.79 103.60,118.87 103.90,120.01 104.20,118.24 104.50,116.25 104.80,116.12 105.09,116.82 105.39,117.48 105.69,118.93 105.99,116.71 106.29,118.28 106.59,118.30 106.89,118.53 107.19,118.14 107.48,118.68 107.78,118.32 108.08,119.36 108.38,118.62 108.68,115.89 108.98,118.31 109.28,118.49 109.57,117.70 109.87,117.52 110.17,119.38 110.47,118.46 110.77,117.32 111.07,117.98 111.37,118.13 111.67,116.68 111.96,118.94 112.26,118.17 112.56,118.78 112.86,116.76 113.16,120.22 113.46,118.93 113.76,118.79 114.05,117.60 114.35,117.66 114.65,116.87 114.95,119.84 115.25,117.52 115.55,118.56 115.85,118.93 116.15,117.74 116.44,119.18 116.74,120.33 117.04,118.64 117.34,119.76 117.64,118.92 117.94,117.91 118.24,117.97 118.53,116.72 118.83,118.48 119.13,119.79 119.43,119.02 119.73,119.19 120.03,119.48 120.33,117.86 120.63,118.92 120.92,120.22 121.22,117.61 121.52,118.40 121.82,117.94 122.12,118.19 122.42,117.68 122.72,118.26 123.01,117.09 123.31,117.88 123.61,117.91 123.91,117.90 124.21,119.71 124.51,118.46 124.81,118.55 125.11,118.10 125.40,119.62 125.70,116.72 126.00,118.20 126.30,119.47 126.60,119.95 126.90,118.57 127.20,118.39 127.49,119.00 127.79,118.22 128.09,118.92 128.39,117.77 128.69,119.01 128.99,118.34 129.29,117.37 129.59,115.83 129.88,119.28 130.18,118.76 130.48,119.12 130.78,117.56 131.08,119.42 131.38,118.78 131.68,118.34 131.97,119.25 132.27,119.23 132.57,118.77 132.87,120.33 133.17,119.70 133.47,118.71 133.77,118.17 134.07,118.50 134.36,120.02 134.66,118.76 134.96,117.55 135.26,117.79 135.56,118.39 135.86,119.17 136.16,117.72 136.45,118.87 136.75,119.44 137.05,119.09 137.35,116.94 137.65,118.11 137.95,117.22 138.25,118.78 138.55,117.43 138.84,118.90 139.14,118.47 139.44,115.95 139.74,117.59 140.04,118.80 140.34,118.41 140.64,118.02 140.93,117.17 141.23,118.79 141.53,119.99 141.83,118.59 142.13,118.31 142.43,118.22 142.73,117.07 143.03,118.03 143.32,117.55 143.62,119.38 143.92,117.50 144.22,116.33 144.52,117.59 144.82,118.09 145.12,118.18 145.41,116.63 145.71,119.22 146.01,118.44 146.31,117.89 146.61,117.62 146.91,118.75 147.21,118.04 147.51,118.60 147.80,118.22 148.10,118.46 148.40,119.42 148.70,118.36 149.00,117.50 149.30,119.26 149.60,118.57 149.89,117.70 150.19,119.35 150.49,118.16 150.79,119.34 151.09,117.26 151.39,116.14 151.69,116.41 151.99,118.55 152.28,117.63 152.58,118.22 152.88,118.24 153.18,116.87 153.48,119.59 153.78,117.34 154.08,118.39 154.37,117.00 154.67,118.16 154.97,118.98 155.27,118.08 155.57,117.64 155.87,118.31 156.17,117.88 156.47,118.84 156.76,120.37 157.06,117.49 157.36,117.68 157.66,118.20 157.96,118.28 158.26,117.36 158.56,118.78 158.85,119.01 159.15,118.52 159.45,117.21 159.75,119.66 160.05,117.21 160.35,118.95 160.65,119.39 160.95,117.15 161.24,118.44 161.54,119.58 161.84,118.68 162.14,117.46 162.44,117.21 162.74,118.75 163.04,117.96 163.33,117.67 163.63,118.96 163.93,118.01 164.23,118.37 164.53,118.85 164.83,118.81 165.13,118.28 165.43,118.32 165.72,118.88 166.02,118.75 166.32,117.29 166.62,118.14 166.92,117.51 167.22,117.20 167.52,117.79 167.81,116.19 168.11,119.13 168.41,117.58 168.71,118.65 169.01,116.58 169.31,116.73 169.61,120.20 169.91,119.27 170.20,117.72 170.50,117.60 170.80,117.65 171.10,118.41 171.40,117.92 171.70,117.73 172.00,118.42 172.29,117.37 172.59,120.49 172.89,117.75 173.19,119.33 173.49,117.44 173.79,118.56 174.09,119.19 174.39,117.99 174.68,119.21 174.98,119.21 175.28,119.84 175.58,118.37 175.88,117.88 176.18,117.38 176.48,118.48 176.77,117.35 177.07,118.33 177.37,118.44 177.67,117.80 177.97,117.34 178.27,118.67 178.57,118.58 178.87,118.50 179.16,118.27 179.46,119.20 179.76,117.37 180.06,118.73 180.36,117.91 180.66,119.13 180.96,118.01 181.25,117.98 181.55,118.75 181.85,116.43 182.15,118.00 182.45,116.66 182.75,117.44 183.05,118.98 183.35,118.71 183.64,117.94 183.94,118.29 184.24,118.30 184.54,118.62 184.84,120.07 185.14,118.56 185.44,120.46 185.73,118.00 186.03,119.04 186.33,119.03 186.63,118.56 186.93,118.09 187.23,119.71 187.53,120.01 187.83,119.36 188.12,120.29 188.42,119.27 188.72,116.84 189.02,119.35 189.32,117.73 189.62,119.65 189.92,118.07 190.21,118.65 190.51,118.41 190.81,117.81 191.11,116.69 191.41,118.17 191.71,118.23 192.01,119.27 192.31,117.80 192.60,118.58 192.90,117.56 193.20,118.39 193.50,116.70 193.80,120.23 194.10,118.63 194.40,117.52 194.69,118.68 194.99,119.10 195.29,118.60 195.59,119.66 195.89,118.24 196.19,116.04 196.49,117.27 196.79,119.40 197.08,119.18 197.38,118.74 197.68,117.40 197.98,119.13 198.28,119.01 198.58,117.51 198.88,117.53 199.17,118.71 199.47,119.41 199.77,119.82 200.07,119.02 200.37,120.47 200.67,117.64 200.97,118.95 201.27,117.90 201.56,116.58 201.86,117.24 202.16,119.44 202.46,117.53 202.76,117.25 203.06,119.06 203.36,119.26 203.65,118.46 203.95,119.87 204.25,116.96 204.55,120.63 204.85,119.40 205.15,118.61 205.45,118.57 205.75,118.20 206.04,118.10 206.34,118.56 206.64,117.27 206.94,120.38 207.24,118.35 207.54,119.03 207.84,118.23 208.13,118.14 208.43,119.22 208.73,118.96 209.03,117.60 209.33,118.02 209.63,119.00 209.93,116.42 210.23,116.16 210.52,119.74 210.82,118.07 211.12,115.97 211.42,117.61 211.72,118.14 212.02,118.55 212.32,118.87 212.61,118.55 212.91,118.88 213.21,117.65 213.51,118.73 213.81,118.77 214.11,119.49 214.41,118.40 214.71,119.20 215.00,118.52 215.30,117.36 215.60,118.01 215.90,117.87 216.20,118.02 216.50,118.30 216.80,118.47 217.09,118.65 217.39,117.63 217.69,119.38 217.99,117.08 218.29,118.32 218.59,119.06 218.89,118.82 219.19,119.00 219.48,118.20 219.78,119.03 220.08,117.27 220.38,119.09 220.68,120.51 220.98,119.05 221.28,120.26 221.57,118.39 221.87,117.35 222.17,117.74 222.47,119.62 222.77,119.08 223.07,116.67 223.37,118.05 223.67,118.35 223.96,117.35 224.26,116.03 224.56,117.12 224.86,118.22 225.16,118.02 225.46,117.77 225.76,118.93 226.05,119.36 226.35,118.30 226.65,119.25 226.95,118.41 227.25,118.26 227.55,116.13 227.85,119.16 228.15,118.47 228.44,118.51 228.74,117.94 229.04,117.36 229.34,118.82 229.64,119.13 229.94,119.91 230.24,119.23 230.53,117.84 230.83,118.31 231.13,119.32 231.43,118.71 231.73,118.32 232.03,117.88 232.33,118.92 232.63,118.59 232.92,120.08 233.22,119.45 233.52,116.82 233.82,120.43 234.12,118.67 234.42,118.15 234.72,118.71 235.01,119.12 235.31,118.41 235.61,118.36 235.91,118.43 236.21,120.14 236.51,118.49 236.81,119.17 237.11,118.87 237.40,118.14 237.70,117.75 238.00,117.50 238.30,118.82 238.60,117.48 238.90,117.24 239.20,117.28 239.49,117.04 239.79,118.49 240.09,118.52 240.39,117.57 240.69,119.65 240.99,118.16 241.29,118.86 241.59,118.70 241.88,120.01 242.18,119.20 242.48,118.37 242.78,117.51 243.08,117.41 243.38,118.43 243.68,118.53 243.97,119.14 244.27,117.97 244.57,118.59 244.87,117.78 245.17,116.69 245.47,118.38 245.77,119.77 246.07,119.17 246.36,119.74 246.66,119.49 246.96,117.12 247.26,118.14 247.56,119.80 247.86,117.73 248.16,117.16 248.45,118.70 248.75,119.00 249.05,118.67 249.35,118.08 249.65,117.75 249.95,117.23 250.25,117.20 250.55,117.23 250.84,117.06 251.14,117.73 251.44,119.81 251.74,118.48 252.04,118.06 252.34,118.72 252.64,117.49 252.93,118.70 253.23,119.23 253.53,116.98 253.83,117.72 254.13,118.15 254.43,117.47 254.73,117.35 255.03,118.03 255.32,120.69 255.62,119.00 255.92,118.79 256.22,119.29 256.52,118.17 256.82,117.22 257.12,118.81 257.41,119.43 257.71,116.43 258.01,118.78 258.31,119.52 258.61,118.13 258.91,117.95 259.21,119.02 259.51,117.60 259.80,118.82 260.10,119.23 260.40,118.18 260.70,117.62 261.00,118.96 261.30,118.04 261.60,118.44 261.89,115.67 262.19,119.03 262.49,117.04 262.79,118.40 263.09,118.47 263.39,117.67 263.69,117.51 263.99,117.15 264.28,118.04 264.58,118.92 264.88,118.86 265.18,117.87 265.48,117.80 265.78,117.03 266.08,117.96 266.37,117.35 266.67,116.92 266.97,118.20 267.27,119.76 267.57,119.47 267.87,119.72 268.17,116.84 268.47,119.16 268.76,117.19 269.06,117.80 269.36,116.73 269.66,117.40 269.96,118.45 270.26,118.54 270.56,118.27 270.85,118.19 271.15,118.86 271.45,118.39 271.75,116.83 272.05,119.97 272.35,118.11 272.65,119.21 272.95,118.18 273.24,117.56 273.54,118.41 273.84,117.62 274.14,119.86 274.44,117.30 274.74,118.93 275.04,117.76 275.33,118.18 275.63,120.81 275.93,119.07 276.23,118.14 276.53,116.88 276.83,118.08 277.13,118.11 277.43,119.69" fill="none" stroke="#ff0000" stroke-width="1.0" stroke-linejoin="round" />
<path d="M54.61,154.86h3.6l-1.8,2.8800000000000003z" fill="#ff0000" stroke="#ff0000" stroke-width="0.4"/>
<path d="M58.10,113.16L60.70,113.16M65.61,113.16L68.21,113.16M73.12,113.16L75.72,113.16M80.63,113.16L83.23,113.16M88.14,113.16L90.74,113.16M95.65,113.16L98.25,113.16M103.16,113.16L105.76,113.16M110.67,113.16L113.27,113.16M118.18,113.16L120.78,113.16M125.69,113.16L128.29,113.16M133.20,113.16L135.80,113.16M140.71,113.16L143.31,113.16M148.22,113.16L150.82,113.16M155.73,113.16L158.33,113.16M163.24,113.16L165.84,113.16M170.76,113.16L173.36,113.16M178.27,113.16L180.87,113.16M185.78,113.16L188.38,113.16M193.29,113.16L195.89,113.16M200.80,113.16L203.40,113.16M208.31,113.16L210.91,113.16M215.82,113.16L218.42,113.16M223.33,113.16L225.93,113.16M230.84,113.16L233.44,113.16M238.35,113.16L240.95,113.16M245.86,113.16L248.46,113.16M253.37,113.16L255.97,113.16M260.88,113.16L263.48,113.16M268.39,113.16L270.99,113.16" fill="none" stroke="#000000" stroke-width="1.2"/>
<path d="M53.40,111.32h4.6l-2.3,3.6799999999999997zM60.91,111.32h4.6l-2.3,3.6799999999999997zM68.42,111.32h4.6l-2.3,3.6799999999999997zM75.93,111.32h4.6l-2.3,3.6799999999999997zM83.44,111.32h4.6l-2.3,3.6799999999999997zM90.95,111.32h4.6l-2.3,3.6799999999999997zM98.46,111.32h4.6l-2.3,3.6799999999999997zM105.97,111.32h4.6l-2.3,3.6799999999999997zM113.48,111.32h4.6l-2.3,3.6799999999999997zM120.99,111.32h4.6l-2.3,3.6799999999999997zM128.50,111.32h4.6l-2.3,3.6799999999999997zM136.01,111.32h4.6l-2.3,3.6799999999999997zM143.52,111.32h4.6l-2.3,3.6799999999999997zM151.03,111.32h4.6l-2.3,3.6799999999999997zM158.54,111.32h4.6l-2.3,3.6799999999999997zM166.06,111.32h4.6l-2.3,3.6799999999999997zM173.57,111.32h4.6l-2.3,3.6799999999999997zM181.08,111.32h4.6l-2.3,3.6799999999999997zM188.59,111.32h4.6l-2.3,3.6799999999999997zM196.10,111.32h4.6l-2.3,3.6799999999999997zM203.61,111.32h4.6l-2.3,3.6799999999999997zM211.12,111.32h4.6l-2.3,3.6799999999999997zM218.63,111.32h4.6l-2.3,3.6799999999999997zM226.14,111.32h4.6l-2.3,3.6799999999999997zM233.65,111.32h4.6l-2.3,3.6799999999999997zM241.16,111.32h4.6l-2.3,3.6799999999999997zM248.67,111.32h4.6l-2.3,3.6799999999999997zM256.18,111.32h4.6l-2.3,3.6799999999999997zM263.69,111.32h4.6l-2.3,3.6799999999999997zM271.20,111.32h4.6l-2.3,3.6799999999999997z" fill="#000000" stroke="#000000" stroke-width="0.4"/>
<path d="M163,145.5H168.7M176.3,145.5H182" stroke="#0b8585" stroke-width="1.3"/>
<circle cx="172.5" cy="145.5" r="1.5" fill="none" stroke="#0b8585" stroke-width="1"/>
<text x="184.6" y="148.25" font-size="8.75">Measured Ti</text>
<path d="M163,156.3H182" stroke="#ff0000" stroke-width="1.3"/>
<path d="M170.5,155.3h4l-2,3z" fill="#fff" stroke="#ff0000" stroke-width="0.9"/>
<text x="184.6" y="159.05" font-size="8.75">Measured Ti+Cu</text>
<path d="M163,167.0H168.7M176.3,167.0H182" stroke="#0000ff" stroke-width="1.3"/>
<circle cx="172.5" cy="167.0" r="1.9" fill="#0000ff"/>
<text x="184.6" y="169.75" font-size="8.75">Theoretical Ti</text>
<path d="M163,177.4H168.7M176.3,177.4H182" stroke="#000000" stroke-width="1.3"/>
<path d="M170.2,175.8h4.6l-2.3,3.8z" fill="#000000"/>
<text x="184.6" y="180.15" font-size="8.75">Theoretical Ti+Cu</text>
<text x="165.5" y="230.6" text-anchor="middle" font-size="14.3" font-weight="bold">Frequency [MHz]</text>
<text transform="translate(21.3,113.6) rotate(-90)" text-anchor="middle" font-size="14.6" font-weight="bold">Inductance [nH]</text>
<text x="152.9" y="251.3" text-anchor="middle" font-size="13" stroke="#000" stroke-width="0.25" style="font-family:&quot;Liberation Serif&quot;,serif">(a)</text>
<path d="M355.6,9.1H588.0V196.4H355.6ZM355.60,196.4v4.0M355.60,9.1v4.0M394.33,196.4v4.0M394.33,9.1v4.0M433.07,196.4v4.0M433.07,9.1v4.0M471.80,196.4v4.0M471.80,9.1v4.0M510.53,196.4v4.0M510.53,9.1v4.0M549.27,196.4v4.0M549.27,9.1v4.0M588.00,196.4v4.0M588.00,9.1v4.0M374.97,196.4v2.2M374.97,9.1v2.2M413.70,196.4v2.2M413.70,9.1v2.2M452.43,196.4v2.2M452.43,9.1v2.2M491.17,196.4v2.2M491.17,9.1v2.2M529.90,196.4v2.2M529.90,9.1v2.2M568.63,196.4v2.2M568.63,9.1v2.2M355.6,196.40h-4.0M588.0,196.40h-4.0M355.6,165.18h-4.0M588.0,165.18h-4.0M355.6,133.97h-4.0M588.0,133.97h-4.0M355.6,102.75h-4.0M588.0,102.75h-4.0M355.6,71.53h-4.0M588.0,71.53h-4.0M355.6,40.32h-4.0M588.0,40.32h-4.0M355.6,9.10h-4.0M588.0,9.10h-4.0M355.6,180.79h-2.2M588.0,180.79h-2.2M355.6,149.57h-2.2M588.0,149.57h-2.2M355.6,118.36h-2.2M588.0,118.36h-2.2M355.6,87.14h-2.2M588.0,87.14h-2.2M355.6,55.92h-2.2M588.0,55.92h-2.2M355.6,24.71h-2.2M588.0,24.71h-2.2" fill="none" stroke="#3a3a3a" stroke-width="1.3"/>
<text x="355.60" y="210.4" text-anchor="middle" font-size="10.5" font-weight="bold">0</text>
<text x="394.33" y="210.4" text-anchor="middle" font-size="10.5" font-weight="bold">5</text>
<text x="433.07" y="210.4" text-anchor="middle" font-size="10.5" font-weight="bold">10</text>
<text x="471.80" y="210.4" text-anchor="middle" font-size="10.5" font-weight="bold">15</text>
<text x="510.53" y="210.4" text-anchor="middle" font-size="10.5" font-weight="bold">20</text>
<text x="549.27" y="210.4" text-anchor="middle" font-size="10.5" font-weight="bold">25</text>
<text x="588.00" y="210.4" text-anchor="middle" font-size="10.5" font-weight="bold">30</text>
<text x="349.0" y="199.70" text-anchor="end" font-size="10.5" font-weight="bold">0.0</text>
<text x="349.0" y="168.48" text-anchor="end" font-size="10.5" font-weight="bold">0.5</text>
<text x="349.0" y="137.27" text-anchor="end" font-size="10.5" font-weight="bold">1.0</text>
<text x="349.0" y="106.05" text-anchor="end" font-size="10.5" font-weight="bold">1.5</text>
<text x="349.0" y="74.83" text-anchor="end" font-size="10.5" font-weight="bold">2.0</text>
<text x="349.0" y="43.62" text-anchor="end" font-size="10.5" font-weight="bold">2.5</text>
<text x="349.0" y="12.40" text-anchor="end" font-size="10.5" font-weight="bold">3.0</text>
<polyline points="357.54,142.81 359.47,142.95 361.41,144.86 363.35,145.30 365.28,146.61 367.22,143.90 369.16,143.25 371.09,141.22 373.03,139.23 374.97,140.85 376.90,138.94 378.84,135.94 380.78,137.37 382.71,135.84 384.65,134.79 386.59,133.66 388.52,133.59 390.46,133.09 392.40,133.43 394.33,133.00 396.27,130.35 398.21,128.43 400.14,128.60 402.08,125.07 404.02,123.71 405.95,124.33 407.89,123.22 409.83,122.51 411.76,122.09 413.70,118.69 415.64,116.28 417.57,118.67 419.51,117.61 421.45,115.98 423.38,116.61 425.32,118.23 427.26,113.20 429.19,113.68 431.13,113.00 433.07,111.76 435.00,109.03 436.94,107.68 438.88,107.65 440.81,105.84 442.75,103.21 444.69,102.15 446.62,104.58 448.56,102.75 450.50,99.95 452.43,101.41 454.37,99.55 456.31,100.53 458.24,98.66 460.18,99.47 462.12,97.26 464.05,97.90 465.99,94.27 467.93,96.77 469.86,91.72 471.80,94.11 473.74,91.39 475.67,90.26 477.61,89.57 479.55,89.38 481.48,89.59 483.42,89.28 485.36,87.32 487.29,90.15 489.23,82.35 491.17,83.28 493.10,81.36 495.04,82.79 496.98,79.74 498.91,78.66 500.85,79.92 502.79,80.36 504.72,78.29 506.66,76.52 508.60,77.46 510.53,76.24 512.47,73.92 514.41,74.12 516.34,72.67 518.28,71.92 520.22,69.45 522.15,71.53 524.09,69.88 526.03,68.17 527.96,69.33 529.90,68.39 531.84,66.78 533.77,68.15 535.71,66.81 537.65,67.23 539.58,65.49 541.52,63.69 543.46,65.29 545.39,63.96 547.33,64.46 549.27,64.18 551.20,65.93 553.14,60.80 555.08,59.36 557.01,60.30 558.95,60.62 560.89,58.64 562.82,58.82 564.76,57.12 566.70,56.90 568.63,56.30 570.57,55.48 572.51,58.25 574.44,55.51 576.38,56.29 578.32,56.97 580.25,55.22 582.19,53.63 584.13,53.35 586.06,52.59 588.00,47.72" fill="none" stroke="#0b8585" stroke-width="1.2" stroke-linejoin="round" />
<path d="M357.87,142.95a1.6,1.6 0 1,0 3.2,0a1.6,1.6 0 1,0 -3.2,0M363.68,146.61a1.6,1.6 0 1,0 3.2,0a1.6,1.6 0 1,0 -3.2,0M369.49,141.22a1.6,1.6 0 1,0 3.2,0a1.6,1.6 0 1,0 -3.2,0M375.30,138.94a1.6,1.6 0 1,0 3.2,0a1.6,1.6 0 1,0 -3.2,0M381.11,135.84a1.6,1.6 0 1,0 3.2,0a1.6,1.6 0 1,0 -3.2,0M386.92,133.59a1.6,1.6 0 1,0 3.2,0a1.6,1.6 0 1,0 -3.2,0M392.73,133.00a1.6,1.6 0 1,0 3.2,0a1.6,1.6 0 1,0 -3.2,0M398.54,128.60a1.6,1.6 0 1,0 3.2,0a1.6,1.6 0 1,0 -3.2,0M404.35,124.33a1.6,1.6 0 1,0 3.2,0a1.6,1.6 0 1,0 -3.2,0M410.16,122.09a1.6,1.6 0 1,0 3.2,0a1.6,1.6 0 1,0 -3.2,0M415.97,118.67a1.6,1.6 0 1,0 3.2,0a1.6,1.6 0 1,0 -3.2,0M421.78,116.61a1.6,1.6 0 1,0 3.2,0a1.6,1.6 0 1,0 -3.2,0M427.59,113.68a1.6,1.6 0 1,0 3.2,0a1.6,1.6 0 1,0 -3.2,0M433.40,109.03a1.6,1.6 0 1,0 3.2,0a1.6,1.6 0 1,0 -3.2,0M439.21,105.84a1.6,1.6 0 1,0 3.2,0a1.6,1.6 0 1,0 -3.2,0M445.02,104.58a1.6,1.6 0 1,0 3.2,0a1.6,1.6 0 1,0 -3.2,0M450.83,101.41a1.6,1.6 0 1,0 3.2,0a1.6,1.6 0 1,0 -3.2,0M456.64,98.66a1.6,1.6 0 1,0 3.2,0a1.6,1.6 0 1,0 -3.2,0M462.45,97.90a1.6,1.6 0 1,0 3.2,0a1.6,1.6 0 1,0 -3.2,0M468.26,91.72a1.6,1.6 0 1,0 3.2,0a1.6,1.6 0 1,0 -3.2,0M474.07,90.26a1.6,1.6 0 1,0 3.2,0a1.6,1.6 0 1,0 -3.2,0M479.88,89.59a1.6,1.6 0 1,0 3.2,0a1.6,1.6 0 1,0 -3.2,0M485.69,90.15a1.6,1.6 0 1,0 3.2,0a1.6,1.6 0 1,0 -3.2,0M491.50,81.36a1.6,1.6 0 1,0 3.2,0a1.6,1.6 0 1,0 -3.2,0M497.31,78.66a1.6,1.6 0 1,0 3.2,0a1.6,1.6 0 1,0 -3.2,0M503.12,78.29a1.6,1.6 0 1,0 3.2,0a1.6,1.6 0 1,0 -3.2,0M508.93,76.24a1.6,1.6 0 1,0 3.2,0a1.6,1.6 0 1,0 -3.2,0M514.74,72.67a1.6,1.6 0 1,0 3.2,0a1.6,1.6 0 1,0 -3.2,0M520.55,71.53a1.6,1.6 0 1,0 3.2,0a1.6,1.6 0 1,0 -3.2,0M526.36,69.33a1.6,1.6 0 1,0 3.2,0a1.6,1.6 0 1,0 -3.2,0M532.17,68.15a1.6,1.6 0 1,0 3.2,0a1.6,1.6 0 1,0 -3.2,0M537.98,65.49a1.6,1.6 0 1,0 3.2,0a1.6,1.6 0 1,0 -3.2,0M543.79,63.96a1.6,1.6 0 1,0 3.2,0a1.6,1.6 0 1,0 -3.2,0M549.60,65.93a1.6,1.6 0 1,0 3.2,0a1.6,1.6 0 1,0 -3.2,0M555.41,60.30a1.6,1.6 0 1,0 3.2,0a1.6,1.6 0 1,0 -3.2,0M561.22,58.82a1.6,1.6 0 1,0 3.2,0a1.6,1.6 0 1,0 -3.2,0M567.03,56.30a1.6,1.6 0 1,0 3.2,0a1.6,1.6 0 1,0 -3.2,0M572.84,55.51a1.6,1.6 0 1,0 3.2,0a1.6,1.6 0 1,0 -3.2,0M578.65,55.22a1.6,1.6 0 1,0 3.2,0a1.6,1.6 0 1,0 -3.2,0M584.46,52.59a1.6,1.6 0 1,0 3.2,0a1.6,1.6 0 1,0 -3.2,0" fill="none" stroke="#0b8585" stroke-width="0.9"/>
<polyline points="357.15,184.12 358.70,185.80 360.25,184.86 361.80,183.30 363.35,183.75 364.90,185.03 366.45,185.03 367.99,185.27 369.54,185.90 371.09,182.68 372.64,185.14 374.19,186.58 375.74,185.69 377.29,184.09 378.84,184.13 380.39,185.05 381.94,185.65 383.49,184.68 385.04,186.77 386.59,186.21 388.14,183.42 389.69,184.96 391.23,183.76 392.78,182.56 394.33,183.16 395.88,183.84 397.43,180.99 398.98,182.73 400.53,183.89 402.08,182.35 403.63,182.61 405.18,184.05 406.73,182.66 408.28,182.77 409.83,184.88 411.38,182.37 412.93,182.31 414.47,182.32 416.02,183.69 417.57,181.87 419.12,181.32 420.67,181.01 422.22,182.47 423.77,180.08 425.32,182.34 426.87,180.95 428.42,178.87 429.97,181.32 431.52,180.96 433.07,178.79 434.62,180.51 436.17,180.25 437.71,179.42 439.26,178.18 440.81,182.19 442.36,180.25 443.91,180.32 445.46,180.27 447.01,179.83 448.56,179.68 450.11,178.11 451.66,179.53 453.21,178.14 454.76,177.70 456.31,179.06 457.86,177.87 459.41,175.86 460.95,177.45 462.50,178.59 464.05,177.75 465.60,178.73 467.15,177.09 468.70,176.21 470.25,178.23 471.80,177.31 473.35,175.49 474.90,177.42 476.45,176.42 478.00,177.84 479.55,177.47 481.10,176.97 482.65,173.49 484.19,176.62 485.74,176.66 487.29,176.61 488.84,176.01 490.39,174.89 491.94,175.38 493.49,172.95 495.04,175.16 496.59,173.53 498.14,174.90 499.69,174.40 501.24,176.87 502.79,175.14 504.34,174.98 505.89,175.11 507.43,177.41 508.98,173.53 510.53,175.03 512.08,175.01 513.63,174.70 515.18,174.59 516.73,173.71 518.28,175.73 519.83,175.23 521.38,173.63 522.93,173.74 524.48,174.31 526.03,174.48 527.58,174.74 529.13,173.69 530.67,172.07 532.22,174.79 533.77,171.49 535.32,172.26 536.87,173.80 538.42,172.18 539.97,174.90 541.52,175.15 543.07,174.51 544.62,173.33 546.17,173.14 547.72,173.30 549.27,172.44 550.82,175.15 552.37,171.78 553.91,174.09 555.46,173.05 557.01,172.65 558.56,173.49 560.11,173.67 561.66,173.12 563.21,171.78 564.76,170.93 566.31,170.86 567.86,172.70 569.41,172.34 570.96,172.38 572.51,170.55 574.06,173.53 575.61,169.31 577.15,171.32 578.70,171.54 580.25,169.98 581.80,168.95 583.35,169.65 584.90,168.59 586.45,169.56 588.00,168.02" fill="none" stroke="#ff0000" stroke-width="1.0" stroke-linejoin="round" />
<path d="M355.15,182.52h4.0l-2.0,3.2zM359.80,181.70h4.0l-2.0,3.2zM364.45,183.43h4.0l-2.0,3.2zM369.09,181.08h4.0l-2.0,3.2zM373.74,184.09h4.0l-2.0,3.2zM378.39,183.45h4.0l-2.0,3.2zM383.04,185.17h4.0l-2.0,3.2zM387.69,183.36h4.0l-2.0,3.2zM392.33,181.56h4.0l-2.0,3.2zM396.98,181.13h4.0l-2.0,3.2zM401.63,181.01h4.0l-2.0,3.2zM406.28,181.17h4.0l-2.0,3.2zM410.93,180.71h4.0l-2.0,3.2zM415.57,180.27h4.0l-2.0,3.2zM420.22,180.87h4.0l-2.0,3.2zM424.87,179.35h4.0l-2.0,3.2zM429.52,179.36h4.0l-2.0,3.2zM434.17,178.65h4.0l-2.0,3.2zM438.81,180.59h4.0l-2.0,3.2zM443.46,178.67h4.0l-2.0,3.2zM448.11,176.51h4.0l-2.0,3.2zM452.76,176.10h4.0l-2.0,3.2zM457.41,174.26h4.0l-2.0,3.2zM462.05,176.15h4.0l-2.0,3.2zM466.70,174.61h4.0l-2.0,3.2zM471.35,173.89h4.0l-2.0,3.2zM476.00,176.24h4.0l-2.0,3.2zM480.65,171.89h4.0l-2.0,3.2zM485.29,175.01h4.0l-2.0,3.2zM489.94,173.78h4.0l-2.0,3.2zM494.59,171.93h4.0l-2.0,3.2zM499.24,175.27h4.0l-2.0,3.2zM503.89,173.51h4.0l-2.0,3.2zM508.53,173.43h4.0l-2.0,3.2zM513.18,172.99h4.0l-2.0,3.2zM517.83,173.63h4.0l-2.0,3.2zM522.48,172.71h4.0l-2.0,3.2zM527.13,172.09h4.0l-2.0,3.2zM531.77,169.89h4.0l-2.0,3.2zM536.42,170.58h4.0l-2.0,3.2zM541.07,172.91h4.0l-2.0,3.2zM545.72,171.70h4.0l-2.0,3.2zM550.37,170.18h4.0l-2.0,3.2zM555.01,171.05h4.0l-2.0,3.2zM559.66,171.52h4.0l-2.0,3.2zM564.31,169.26h4.0l-2.0,3.2zM568.96,170.78h4.0l-2.0,3.2zM573.61,167.71h4.0l-2.0,3.2zM578.25,168.38h4.0l-2.0,3.2zM582.90,166.99h4.0l-2.0,3.2z" fill="#fff" fill-opacity="0" stroke="#ff0000" stroke-width="0.9"/>
<path d="M360.20,139.65L362.80,139.80M368.01,139.56L370.61,138.63M375.83,136.14L378.43,134.46M383.64,131.31L386.24,129.86M391.46,126.81L394.06,125.20M399.27,122.26L401.87,120.92M407.08,118.18L409.68,116.79M414.90,114.05L417.50,112.70M422.71,110.12L425.31,108.90M430.52,106.75L433.12,105.80M438.34,103.41L440.94,102.00M446.15,99.50L448.75,98.38M453.97,96.33L456.57,95.39M461.78,93.47L464.38,92.51M469.59,90.58L472.19,89.60M477.41,87.61L480.01,86.62M485.22,84.66L487.82,83.69M493.03,81.79L495.63,80.85M500.85,78.97L503.45,78.06M508.66,76.32L511.26,75.51M516.48,73.98L519.08,73.24M524.29,71.82L526.89,71.11M532.10,69.68L534.70,68.96M539.92,67.54L542.52,66.84M547.73,65.45L550.33,64.78M555.54,63.47L558.14,62.84M563.36,61.57L565.96,60.93M571.17,59.60L573.77,58.91M578.99,57.51L581.59,56.79" fill="none" stroke="#0000ff" stroke-width="1.3"/>
<path d="M356.30,139.59a1.5,1.5 0 1,0 3.0,0a1.5,1.5 0 1,0 -3.0,0M364.11,139.90a1.5,1.5 0 1,0 3.0,0a1.5,1.5 0 1,0 -3.0,0M371.93,137.40a1.5,1.5 0 1,0 3.0,0a1.5,1.5 0 1,0 -3.0,0M379.74,132.67a1.5,1.5 0 1,0 3.0,0a1.5,1.5 0 1,0 -3.0,0M387.56,128.26a1.5,1.5 0 1,0 3.0,0a1.5,1.5 0 1,0 -3.0,0M395.37,123.55a1.5,1.5 0 1,0 3.0,0a1.5,1.5 0 1,0 -3.0,0M403.18,119.46a1.5,1.5 0 1,0 3.0,0a1.5,1.5 0 1,0 -3.0,0M411.00,115.31a1.5,1.5 0 1,0 3.0,0a1.5,1.5 0 1,0 -3.0,0M418.81,111.29a1.5,1.5 0 1,0 3.0,0a1.5,1.5 0 1,0 -3.0,0M426.62,107.67a1.5,1.5 0 1,0 3.0,0a1.5,1.5 0 1,0 -3.0,0M434.44,104.62a1.5,1.5 0 1,0 3.0,0a1.5,1.5 0 1,0 -3.0,0M442.25,100.59a1.5,1.5 0 1,0 3.0,0a1.5,1.5 0 1,0 -3.0,0M450.07,97.24a1.5,1.5 0 1,0 3.0,0a1.5,1.5 0 1,0 -3.0,0M457.88,94.36a1.5,1.5 0 1,0 3.0,0a1.5,1.5 0 1,0 -3.0,0M465.69,91.47a1.5,1.5 0 1,0 3.0,0a1.5,1.5 0 1,0 -3.0,0M473.51,88.53a1.5,1.5 0 1,0 3.0,0a1.5,1.5 0 1,0 -3.0,0M481.32,85.56a1.5,1.5 0 1,0 3.0,0a1.5,1.5 0 1,0 -3.0,0M489.13,82.67a1.5,1.5 0 1,0 3.0,0a1.5,1.5 0 1,0 -3.0,0M496.95,79.83a1.5,1.5 0 1,0 3.0,0a1.5,1.5 0 1,0 -3.0,0M504.76,77.11a1.5,1.5 0 1,0 3.0,0a1.5,1.5 0 1,0 -3.0,0M512.58,74.67a1.5,1.5 0 1,0 3.0,0a1.5,1.5 0 1,0 -3.0,0M520.39,72.47a1.5,1.5 0 1,0 3.0,0a1.5,1.5 0 1,0 -3.0,0M528.20,70.34a1.5,1.5 0 1,0 3.0,0a1.5,1.5 0 1,0 -3.0,0M536.02,68.19a1.5,1.5 0 1,0 3.0,0a1.5,1.5 0 1,0 -3.0,0M543.83,66.09a1.5,1.5 0 1,0 3.0,0a1.5,1.5 0 1,0 -3.0,0M551.64,64.07a1.5,1.5 0 1,0 3.0,0a1.5,1.5 0 1,0 -3.0,0M559.46,62.16a1.5,1.5 0 1,0 3.0,0a1.5,1.5 0 1,0 -3.0,0M567.27,60.22a1.5,1.5 0 1,0 3.0,0a1.5,1.5 0 1,0 -3.0,0M575.09,58.16a1.5,1.5 0 1,0 3.0,0a1.5,1.5 0 1,0 -3.0,0M582.90,56.01a1.5,1.5 0 1,0 3.0,0a1.5,1.5 0 1,0 -3.0,0" fill="#0000ff" stroke="#0000ff" stroke-width="0.5"/>
<path d="M360.20,192.14L362.80,191.15M368.01,189.61L370.61,188.96M375.83,187.82L378.43,187.30M383.64,186.35L386.24,185.91M391.46,185.07L394.06,184.68M399.27,183.93L401.87,183.58M407.08,182.89L409.68,182.56M414.90,181.92L417.50,181.62M422.71,181.02L425.31,180.73M430.52,180.17L433.12,179.89M438.34,179.36L440.94,179.10M446.15,178.58L448.75,178.33M453.97,177.84L456.57,177.61M461.78,177.13L464.38,176.90M469.59,176.45L472.19,176.23M477.41,175.79L480.01,175.57M485.22,175.15L487.82,174.94M493.03,174.52L495.63,174.32M500.85,173.92L503.45,173.72M508.66,173.33L511.26,173.14M516.48,172.76L519.08,172.57M524.29,172.20L526.89,172.01M532.10,171.65L534.70,171.47M539.92,171.12L542.52,170.94M547.73,170.59L550.33,170.42M555.54,170.08L558.14,169.91M563.36,169.58L565.96,169.41M571.17,169.08L573.77,168.92M578.99,168.60L581.59,168.44" fill="none" stroke="#000000" stroke-width="1.2"/>
<path d="M355.40,191.44h4.8l-2.4,3.84zM363.21,188.35h4.8l-2.4,3.84zM371.03,186.40h4.8l-2.4,3.84zM378.84,184.85h4.8l-2.4,3.84zM386.66,183.53h4.8l-2.4,3.84zM394.47,182.35h4.8l-2.4,3.84zM402.28,181.28h4.8l-2.4,3.84zM410.10,180.29h4.8l-2.4,3.84zM417.91,179.37h4.8l-2.4,3.84zM425.72,178.50h4.8l-2.4,3.84zM433.54,177.68h4.8l-2.4,3.84zM441.35,176.90h4.8l-2.4,3.84zM449.17,176.15h4.8l-2.4,3.84zM456.98,175.43h4.8l-2.4,3.84zM464.79,174.74h4.8l-2.4,3.84zM472.61,174.07h4.8l-2.4,3.84zM480.42,173.42h4.8l-2.4,3.84zM488.23,172.79h4.8l-2.4,3.84zM496.05,172.18h4.8l-2.4,3.84zM503.86,171.59h4.8l-2.4,3.84zM511.68,171.01h4.8l-2.4,3.84zM519.49,170.45h4.8l-2.4,3.84zM527.30,169.90h4.8l-2.4,3.84zM535.12,169.36h4.8l-2.4,3.84zM542.93,168.83h4.8l-2.4,3.84zM550.74,168.32h4.8l-2.4,3.84zM558.56,167.81h4.8l-2.4,3.84zM566.37,167.31h4.8l-2.4,3.84zM574.19,166.82h4.8l-2.4,3.84zM582.00,166.35h4.8l-2.4,3.84z" fill="#000000" stroke="#000000" stroke-width="0.4"/>
<path d="M364.6,24.5H384.7" stroke="#0b8585" stroke-width="1.3"/>
<circle cx="374.65" cy="24.5" r="1.6" fill="#fff" stroke="#0b8585" stroke-width="1"/>
<text x="387.8" y="27.25" font-size="9">Measured Ti</text>
<path d="M364.6,36.0H384.7" stroke="#ff0000" stroke-width="1.3"/>
<path d="M372.65,35.0h4l-2,3z" fill="#fff" stroke="#ff0000" stroke-width="0.9"/>
<text x="387.8" y="38.75" font-size="9">Measured Cu</text>
<path d="M364.6,47.3H370.84999999999997M378.45,47.3H384.7" stroke="#0000ff" stroke-width="1.3"/>
<circle cx="374.65" cy="47.3" r="1.9" fill="#0000ff"/>
<text x="387.8" y="50.05" font-size="9">Theoretical Ti</text>
<path d="M364.6,58.5H370.84999999999997M378.45,58.5H384.7" stroke="#000000" stroke-width="1.3"/>
<path d="M372.34999999999997,56.9h4.6l-2.3,3.8z" fill="#000000"/>
<text x="387.8" y="61.25" font-size="9">Theoretical Ti+Cu</text>
<text x="471.8" y="233" text-anchor="middle" font-size="14.8" font-weight="bold">Frequency [MHz]</text>
<text transform="translate(326.2,111.5) rotate(-90)" text-anchor="middle" font-size="15.2" font-weight="bold">Resistance [Ohms]</text>
<text x="456.2" y="251.5" text-anchor="middle" font-size="13" stroke="#000" stroke-width="0.25" style="font-family:&quot;Liberation Serif&quot;,serif">(b)</text>
<path d="M53.2,262.6H280.9V446.4H53.2ZM53.20,446.4v4.0M53.20,262.6v4.0M91.15,446.4v4.0M91.15,262.6v4.0M129.10,446.4v4.0M129.10,262.6v4.0M167.05,446.4v4.0M167.05,262.6v4.0M205.00,446.4v4.0M205.00,262.6v4.0M242.95,446.4v4.0M242.95,262.6v4.0M280.90,446.4v4.0M280.90,262.6v4.0M72.17,446.4v2.2M72.17,262.6v2.2M110.12,446.4v2.2M110.12,262.6v2.2M148.07,446.4v2.2M148.07,262.6v2.2M186.02,446.4v2.2M186.02,262.6v2.2M223.97,446.4v2.2M223.97,262.6v2.2M261.93,446.4v2.2M261.93,262.6v2.2M53.2,446.40h-4.0M280.9,446.40h-4.0M53.2,415.77h-4.0M280.9,415.77h-4.0M53.2,385.13h-4.0M280.9,385.13h-4.0M53.2,354.50h-4.0M280.9,354.50h-4.0M53.2,323.87h-4.0M280.9,323.87h-4.0M53.2,293.23h-4.0M280.9,293.23h-4.0M53.2,262.60h-4.0M280.9,262.60h-4.0M53.2,431.08h-2.2M280.9,431.08h-2.2M53.2,400.45h-2.2M280.9,400.45h-2.2M53.2,369.82h-2.2M280.9,369.82h-2.2M53.2,339.18h-2.2M280.9,339.18h-2.2M53.2,308.55h-2.2M280.9,308.55h-2.2M53.2,277.92h-2.2M280.9,277.92h-2.2" fill="none" stroke="#3a3a3a" stroke-width="1.3"/>
<text x="53.20" y="461.0" text-anchor="middle" font-size="10.5" font-weight="bold">0</text>
<text x="91.15" y="461.0" text-anchor="middle" font-size="10.5" font-weight="bold">5</text>
<text x="129.10" y="461.0" text-anchor="middle" font-size="10.5" font-weight="bold">10</text>
<text x="167.05" y="461.0" text-anchor="middle" font-size="10.5" font-weight="bold">15</text>
<text x="205.00" y="461.0" text-anchor="middle" font-size="10.5" font-weight="bold">20</text>
<text x="242.95" y="461.0" text-anchor="middle" font-size="10.5" font-weight="bold">25</text>
<text x="280.90" y="461.0" text-anchor="middle" font-size="10.5" font-weight="bold">30</text>
<text x="46.4" y="449.70" text-anchor="end" font-size="10.5" font-weight="bold">0</text>
<text x="46.4" y="419.07" text-anchor="end" font-size="10.5" font-weight="bold">10</text>
<text x="46.4" y="388.43" text-anchor="end" font-size="10.5" font-weight="bold">20</text>
<text x="46.4" y="357.80" text-anchor="end" font-size="10.5" font-weight="bold">30</text>
<text x="46.4" y="327.17" text-anchor="end" font-size="10.5" font-weight="bold">40</text>
<text x="46.4" y="296.53" text-anchor="end" font-size="10.5" font-weight="bold">50</text>
<text x="46.4" y="265.90" text-anchor="end" font-size="10.5" font-weight="bold">60</text>
<polyline points="53.96,447.43 54.41,445.10 54.87,441.21 55.33,445.06 55.78,440.45 56.24,440.73 56.69,442.34 57.15,439.95 57.60,439.07 58.06,440.40 58.51,433.38 58.97,441.21 59.42,435.04 59.88,433.90 60.33,435.72 60.79,433.66 61.25,429.99 61.70,432.53 62.16,430.68 62.61,430.37 63.07,435.57 63.52,427.72 63.98,425.53 64.43,427.81 64.89,427.28 65.34,432.03 65.80,428.81 66.25,429.89 66.71,428.96 67.17,425.12 67.62,428.58 68.08,426.65 68.53,432.46 68.99,425.83 69.44,424.83 69.90,426.20 70.35,425.82 70.81,419.45 71.26,426.12 71.72,425.35 72.17,424.39 72.63,416.80 73.09,416.78 73.54,420.51 74.00,422.57 74.45,421.49 74.91,417.53 75.36,423.79 75.82,415.75 76.27,413.94 76.73,417.90 77.18,415.63 77.64,414.75 78.10,411.37 78.55,419.99 79.01,411.50 79.46,416.45 79.92,417.27 80.37,413.52 80.83,414.05 81.28,416.27 81.74,417.92 82.19,414.90 82.65,405.38 83.10,402.83 83.56,407.15 84.02,404.51 84.47,410.36 84.93,408.03 85.38,405.98 85.84,410.60 86.29,409.58 86.75,404.64 87.20,405.61 87.66,407.91 88.11,401.45 88.57,403.42 89.02,397.59 89.48,401.17 89.94,401.82 90.39,399.54 90.85,400.31 91.30,401.94 91.76,400.43 92.21,395.23 92.67,392.81 93.12,392.17 93.58,404.35 94.03,398.50 94.49,399.81 94.94,395.37 95.40,397.68 95.86,397.59 96.31,391.68 96.77,393.93 97.22,399.39 97.68,388.22 98.13,389.33 98.59,395.82 99.04,389.34 99.50,395.86 99.95,387.35 100.41,392.92 100.87,395.18 101.32,392.95 101.78,394.37 102.23,389.77 102.69,389.52 103.14,389.82 103.60,392.15 104.05,402.10 104.51,388.59 104.96,397.28 105.42,387.26 105.87,378.28 106.33,386.49 106.79,389.21 107.24,387.94 107.70,387.42 108.15,389.03 108.61,388.89 109.06,390.17 109.52,380.07 109.97,385.42 110.43,380.53 110.88,385.85 111.34,384.05 111.79,384.89 112.25,381.62 112.71,379.61 113.16,382.08 113.62,386.11 114.07,386.33 114.53,371.59 114.98,383.39 115.44,383.16 115.89,374.47 116.35,375.99 116.80,378.36 117.26,382.57 117.72,369.38 118.17,378.18 118.63,377.16 119.08,380.36 119.54,386.14 119.99,385.49 120.45,376.72 120.90,376.52 121.36,379.35 121.81,383.66 122.27,384.73 122.72,380.44 123.18,384.30 123.64,372.38 124.09,370.84 124.55,364.83 125.00,371.66 125.46,378.74 125.91,379.88 126.37,390.41 126.82,377.98 127.28,375.63 127.73,369.60 128.19,371.13 128.64,370.99 129.10,372.63 129.56,370.10 130.01,365.84 130.47,378.37 130.92,375.03 131.38,379.54 131.83,363.90 132.29,359.94 132.74,367.83 133.20,377.61 133.65,370.30 134.11,372.16 134.56,370.28 135.02,371.43 135.48,365.08 135.93,372.01 136.39,365.26 136.84,368.21 137.30,370.76 137.75,369.57 138.21,371.05 138.66,364.22 139.12,369.69 139.57,366.46 140.03,369.85 140.49,375.39 140.94,362.49 141.40,372.67 141.85,363.20 142.31,364.34 142.76,375.17 143.22,371.14 143.67,368.61 144.13,370.02 144.58,371.73 145.04,361.17 145.49,366.20 145.95,362.60 146.41,366.77 146.86,362.56 147.32,368.04 147.77,363.89 148.23,360.35 148.68,363.03 149.14,365.54 149.59,368.75 150.05,361.67 150.50,360.46 150.96,363.54 151.41,366.12 151.87,358.68 152.33,348.18 152.78,362.88 153.24,359.12 153.69,358.67 154.15,374.75 154.60,359.00 155.06,364.00 155.51,352.14 155.97,361.04 156.42,363.74 156.88,360.40 157.33,358.02 157.79,361.87 158.25,358.80 158.70,365.90 159.16,359.33 159.61,353.47 160.07,346.50 160.52,353.40 160.98,355.64 161.43,350.25 161.89,350.95 162.34,347.06 162.80,344.59 163.25,356.75 163.71,354.39 164.17,354.62 164.62,353.70 165.08,353.03 165.53,359.49 165.99,366.87 166.44,358.43 166.90,366.02 167.35,353.74 167.81,353.89 168.26,363.39 168.72,349.49 169.18,343.71 169.63,352.49 170.09,343.13 170.54,341.72 171.00,359.45 171.45,346.14 171.91,349.40 172.36,349.32 172.82,346.08 173.27,355.57 173.73,357.75 174.18,355.79 174.64,355.16 175.10,351.08 175.55,358.87 176.01,361.83 176.46,346.44 176.92,350.07 177.37,347.17 177.83,360.47 178.28,353.69 178.74,352.13 179.19,348.41 179.65,351.90 180.10,342.60 180.56,348.33 181.02,347.67 181.47,347.41 181.93,343.10 182.38,349.99 182.84,340.18 183.29,343.96 183.75,345.60 184.20,345.85 184.66,342.97 185.11,339.76 185.57,339.97 186.02,343.22 186.48,339.96 186.94,344.38 187.39,337.25 187.85,345.00 188.30,357.18 188.76,336.08 189.21,343.42 189.67,351.07 190.12,344.89 190.58,348.91 191.03,330.32 191.49,339.99 191.95,361.27 192.40,339.28 192.86,344.92 193.31,326.69 193.77,354.46 194.22,355.81 194.68,341.24 195.13,343.61 195.59,343.84 196.04,354.41 196.50,338.17 196.95,330.16 197.41,352.40 197.87,326.27 198.32,343.60 198.78,325.06 199.23,336.88 199.69,340.61 200.14,332.25 200.60,335.70 201.05,342.57 201.51,334.12 201.96,341.66 202.42,349.57 202.87,325.11 203.33,340.04 203.79,341.49 204.24,335.25 204.70,347.16 205.15,345.66 205.61,340.00 206.06,339.93 206.52,335.94 206.97,328.99 207.43,339.04 207.88,329.77 208.34,331.71 208.80,342.37 209.25,333.70 209.71,341.07 210.16,327.89 210.62,331.62 211.07,334.25 211.53,342.85 211.98,333.19 212.44,338.73 212.89,328.94 213.35,334.81 213.80,338.43 214.26,326.87 214.72,323.74 215.17,336.39 215.63,324.68 216.08,334.05 216.54,333.92 216.99,330.86 217.45,336.43 217.90,334.17 218.36,332.11 218.81,320.73 219.27,320.72 219.72,333.69 220.18,319.54 220.64,330.31 221.09,327.28 221.55,323.72 222.00,327.45 222.46,313.08 222.91,327.36 223.37,336.78 223.82,319.83 224.28,331.12 224.73,330.20 225.19,348.04 225.64,321.02 226.10,317.07 226.56,317.11 227.01,320.53 227.47,315.50 227.92,327.03 228.38,320.17 228.83,331.35 229.29,328.50 229.74,318.72 230.20,323.04 230.65,334.56 231.11,322.83 231.56,326.33 232.02,330.47 232.48,321.71 232.93,327.24 233.39,335.03 233.84,331.69 234.30,311.73 234.75,334.08 235.21,321.94 235.66,319.07 236.12,318.67 236.57,331.33 237.03,324.90 237.49,321.50 237.94,316.74 238.40,326.55 238.85,329.95 239.31,314.73 239.76,313.82 240.22,318.73 240.67,325.34 241.13,318.08 241.58,319.96 242.04,314.68 242.49,329.06 242.95,319.33 243.41,321.07 243.86,327.54 244.32,318.06 244.77,319.14 245.23,322.08 245.68,316.21 246.14,328.80 246.59,319.00 247.05,315.39 247.50,316.24 247.96,310.44 248.41,326.37 248.87,328.36 249.33,314.27 249.78,311.16 250.24,302.05 250.69,312.54 251.15,322.96 251.60,310.81 252.06,322.40 252.51,326.79 252.97,297.35 253.42,313.48 253.88,310.51 254.33,311.40 254.79,302.26 255.25,313.03 255.70,306.14 256.16,322.09 256.61,324.54 257.07,304.05 257.52,303.51 257.98,310.28 258.43,312.15 258.89,312.40 259.34,318.40 259.80,302.09 260.26,308.28 260.71,309.20 261.17,309.96 261.62,304.89 262.08,305.34 262.53,306.72 262.99,320.49 263.44,304.71 263.90,295.63 264.35,315.21 264.81,313.03 265.26,304.53 265.72,303.87 266.18,306.12 266.63,322.40 267.09,306.66 267.54,318.88 268.00,316.06 268.45,305.78 268.91,311.82 269.36,303.48 269.82,289.76 270.27,303.36 270.73,298.76 271.18,315.38 271.64,313.34 272.10,316.29 272.55,312.18 273.01,316.16 273.46,312.78 273.92,309.25 274.37,314.97 274.83,317.93 275.28,317.33 275.74,300.55 276.19,306.38 276.65,298.97 277.10,291.62 277.56,308.85 278.02,301.10 278.47,316.77 278.93,288.63 279.38,296.62 279.84,307.06 280.29,314.03 280.75,302.23" fill="none" stroke="#ff0000" stroke-width="1.0" stroke-linejoin="round" />
<path d="M55.15,438.35h4.0l-2.0,3.2zM67.90,424.60h4.0l-2.0,3.2zM80.65,403.78h4.0l-2.0,3.2zM93.40,396.08h4.0l-2.0,3.2zM106.15,387.43h4.0l-2.0,3.2zM118.90,374.92h4.0l-2.0,3.2zM131.65,368.70h4.0l-2.0,3.2zM144.41,365.17h4.0l-2.0,3.2zM157.16,357.73h4.0l-2.0,3.2zM169.91,347.80h4.0l-2.0,3.2zM182.66,341.37h4.0l-2.0,3.2zM195.41,350.80h4.0l-2.0,3.2zM208.16,326.29h4.0l-2.0,3.2zM220.91,325.76h4.0l-2.0,3.2zM233.66,317.47h4.0l-2.0,3.2zM246.41,324.77h4.0l-2.0,3.2zM259.17,308.36h4.0l-2.0,3.2zM271.92,307.65h4.0l-2.0,3.2z" fill="#ff0000" stroke="#ff0000" stroke-width="0.4"/>
<path d="M57.40,444.61L60.00,443.93M65.07,442.34L67.67,441.35M72.74,439.84L75.34,439.22M80.42,437.97L83.02,437.29M88.09,436.19L90.69,435.75M95.76,434.87L98.36,434.40M103.43,433.54L106.03,433.12M111.11,432.28L113.71,431.84M118.78,430.97L121.38,430.52M126.45,429.72L129.05,429.34M134.12,428.62L136.72,428.25M141.80,427.57L144.40,427.23M149.47,426.57L152.07,426.25M157.14,425.62L159.74,425.30M164.81,424.70L167.41,424.39M172.49,423.80L175.09,423.50M180.16,422.93L182.76,422.64M187.83,422.09L190.43,421.82M195.50,421.29L198.10,421.03M203.18,420.54L205.78,420.29M210.85,419.82L213.45,419.59M218.52,419.15L221.12,418.93M226.19,418.50L228.79,418.29M233.87,417.88L236.47,417.67M241.54,417.26L244.14,417.05M249.21,416.64L251.81,416.44M256.88,416.04L259.48,415.84M264.56,415.45L267.16,415.25M272.23,414.87L274.83,414.68" fill="none" stroke="#0000ff" stroke-width="1.3"/>
<path d="M53.50,445.43a1.5,1.5 0 1,0 3.0,0a1.5,1.5 0 1,0 -3.0,0M61.17,443.19a1.5,1.5 0 1,0 3.0,0a1.5,1.5 0 1,0 -3.0,0M68.84,440.47a1.5,1.5 0 1,0 3.0,0a1.5,1.5 0 1,0 -3.0,0M76.52,438.59a1.5,1.5 0 1,0 3.0,0a1.5,1.5 0 1,0 -3.0,0M84.19,436.66a1.5,1.5 0 1,0 3.0,0a1.5,1.5 0 1,0 -3.0,0M91.86,435.30a1.5,1.5 0 1,0 3.0,0a1.5,1.5 0 1,0 -3.0,0M99.53,433.94a1.5,1.5 0 1,0 3.0,0a1.5,1.5 0 1,0 -3.0,0M107.21,432.69a1.5,1.5 0 1,0 3.0,0a1.5,1.5 0 1,0 -3.0,0M114.88,431.38a1.5,1.5 0 1,0 3.0,0a1.5,1.5 0 1,0 -3.0,0M122.55,430.09a1.5,1.5 0 1,0 3.0,0a1.5,1.5 0 1,0 -3.0,0M130.22,428.96a1.5,1.5 0 1,0 3.0,0a1.5,1.5 0 1,0 -3.0,0M137.90,427.89a1.5,1.5 0 1,0 3.0,0a1.5,1.5 0 1,0 -3.0,0M145.57,426.88a1.5,1.5 0 1,0 3.0,0a1.5,1.5 0 1,0 -3.0,0M153.24,425.91a1.5,1.5 0 1,0 3.0,0a1.5,1.5 0 1,0 -3.0,0M160.91,424.98a1.5,1.5 0 1,0 3.0,0a1.5,1.5 0 1,0 -3.0,0M168.59,424.08a1.5,1.5 0 1,0 3.0,0a1.5,1.5 0 1,0 -3.0,0M176.26,423.20a1.5,1.5 0 1,0 3.0,0a1.5,1.5 0 1,0 -3.0,0M183.93,422.35a1.5,1.5 0 1,0 3.0,0a1.5,1.5 0 1,0 -3.0,0M191.60,421.54a1.5,1.5 0 1,0 3.0,0a1.5,1.5 0 1,0 -3.0,0M199.28,420.77a1.5,1.5 0 1,0 3.0,0a1.5,1.5 0 1,0 -3.0,0M206.95,420.04a1.5,1.5 0 1,0 3.0,0a1.5,1.5 0 1,0 -3.0,0M214.62,419.35a1.5,1.5 0 1,0 3.0,0a1.5,1.5 0 1,0 -3.0,0M222.29,418.70a1.5,1.5 0 1,0 3.0,0a1.5,1.5 0 1,0 -3.0,0M229.97,418.07a1.5,1.5 0 1,0 3.0,0a1.5,1.5 0 1,0 -3.0,0M237.64,417.45a1.5,1.5 0 1,0 3.0,0a1.5,1.5 0 1,0 -3.0,0M245.31,416.84a1.5,1.5 0 1,0 3.0,0a1.5,1.5 0 1,0 -3.0,0M252.98,416.23a1.5,1.5 0 1,0 3.0,0a1.5,1.5 0 1,0 -3.0,0M260.66,415.64a1.5,1.5 0 1,0 3.0,0a1.5,1.5 0 1,0 -3.0,0M268.33,415.05a1.5,1.5 0 1,0 3.0,0a1.5,1.5 0 1,0 -3.0,0M276.00,414.48a1.5,1.5 0 1,0 3.0,0a1.5,1.5 0 1,0 -3.0,0" fill="#0000ff" stroke="#0000ff" stroke-width="0.5"/>
<polyline points="53.96,446.08 57.75,443.60 61.55,441.92 65.34,440.94 69.14,439.88 72.93,438.54 76.73,438.30 80.52,436.85 84.32,435.97 88.11,435.15 91.91,434.01 95.70,433.74 99.50,432.13 103.29,432.22 107.09,430.81 110.88,431.16 114.68,430.06 118.47,430.05 122.27,429.55 126.06,428.59 129.86,427.96 133.65,428.09 137.45,426.89 141.24,427.06 145.04,426.36 148.83,425.87 152.63,425.41 156.42,425.75 160.22,424.32 164.01,424.26 167.81,424.18 171.60,423.99 175.40,423.82 179.19,423.35 182.99,422.41 186.78,422.33 190.58,422.23 194.37,421.71 198.17,420.74 201.96,421.01 205.76,420.79 209.55,419.90 213.35,419.90 217.14,419.75 220.94,419.69 224.73,419.72 228.53,419.36 232.32,418.90 236.12,418.57 239.91,418.15 243.71,417.85 247.50,417.70 251.30,417.47 255.09,417.61 258.89,417.72 262.68,416.99 266.48,416.90 270.27,416.58 274.07,416.24 277.86,416.32" fill="none" stroke="#0b8585" stroke-width="1.1" stroke-linejoin="round" />
<path d="M52.51,446.08a1.45,1.45 0 1,0 2.9,0a1.45,1.45 0 1,0 -2.9,0M56.30,443.60a1.45,1.45 0 1,0 2.9,0a1.45,1.45 0 1,0 -2.9,0M60.10,441.92a1.45,1.45 0 1,0 2.9,0a1.45,1.45 0 1,0 -2.9,0M63.89,440.94a1.45,1.45 0 1,0 2.9,0a1.45,1.45 0 1,0 -2.9,0M67.69,439.88a1.45,1.45 0 1,0 2.9,0a1.45,1.45 0 1,0 -2.9,0M71.48,438.54a1.45,1.45 0 1,0 2.9,0a1.45,1.45 0 1,0 -2.9,0M75.28,438.30a1.45,1.45 0 1,0 2.9,0a1.45,1.45 0 1,0 -2.9,0M79.07,436.85a1.45,1.45 0 1,0 2.9,0a1.45,1.45 0 1,0 -2.9,0M82.87,435.97a1.45,1.45 0 1,0 2.9,0a1.45,1.45 0 1,0 -2.9,0M86.66,435.15a1.45,1.45 0 1,0 2.9,0a1.45,1.45 0 1,0 -2.9,0M90.46,434.01a1.45,1.45 0 1,0 2.9,0a1.45,1.45 0 1,0 -2.9,0M94.25,433.74a1.45,1.45 0 1,0 2.9,0a1.45,1.45 0 1,0 -2.9,0M98.05,432.13a1.45,1.45 0 1,0 2.9,0a1.45,1.45 0 1,0 -2.9,0M101.84,432.22a1.45,1.45 0 1,0 2.9,0a1.45,1.45 0 1,0 -2.9,0M105.64,430.81a1.45,1.45 0 1,0 2.9,0a1.45,1.45 0 1,0 -2.9,0M109.43,431.16a1.45,1.45 0 1,0 2.9,0a1.45,1.45 0 1,0 -2.9,0M113.23,430.06a1.45,1.45 0 1,0 2.9,0a1.45,1.45 0 1,0 -2.9,0M117.02,430.05a1.45,1.45 0 1,0 2.9,0a1.45,1.45 0 1,0 -2.9,0M120.82,429.55a1.45,1.45 0 1,0 2.9,0a1.45,1.45 0 1,0 -2.9,0M124.61,428.59a1.45,1.45 0 1,0 2.9,0a1.45,1.45 0 1,0 -2.9,0M128.41,427.96a1.45,1.45 0 1,0 2.9,0a1.45,1.45 0 1,0 -2.9,0M132.20,428.09a1.45,1.45 0 1,0 2.9,0a1.45,1.45 0 1,0 -2.9,0M136.00,426.89a1.45,1.45 0 1,0 2.9,0a1.45,1.45 0 1,0 -2.9,0M139.79,427.06a1.45,1.45 0 1,0 2.9,0a1.45,1.45 0 1,0 -2.9,0M143.59,426.36a1.45,1.45 0 1,0 2.9,0a1.45,1.45 0 1,0 -2.9,0M147.38,425.87a1.45,1.45 0 1,0 2.9,0a1.45,1.45 0 1,0 -2.9,0M151.18,425.41a1.45,1.45 0 1,0 2.9,0a1.45,1.45 0 1,0 -2.9,0M154.97,425.75a1.45,1.45 0 1,0 2.9,0a1.45,1.45 0 1,0 -2.9,0M158.77,424.32a1.45,1.45 0 1,0 2.9,0a1.45,1.45 0 1,0 -2.9,0M162.56,424.26a1.45,1.45 0 1,0 2.9,0a1.45,1.45 0 1,0 -2.9,0M166.36,424.18a1.45,1.45 0 1,0 2.9,0a1.45,1.45 0 1,0 -2.9,0M170.15,423.99a1.45,1.45 0 1,0 2.9,0a1.45,1.45 0 1,0 -2.9,0M173.95,423.82a1.45,1.45 0 1,0 2.9,0a1.45,1.45 0 1,0 -2.9,0M177.74,423.35a1.45,1.45 0 1,0 2.9,0a1.45,1.45 0 1,0 -2.9,0M181.54,422.41a1.45,1.45 0 1,0 2.9,0a1.45,1.45 0 1,0 -2.9,0M185.33,422.33a1.45,1.45 0 1,0 2.9,0a1.45,1.45 0 1,0 -2.9,0M189.13,422.23a1.45,1.45 0 1,0 2.9,0a1.45,1.45 0 1,0 -2.9,0M192.92,421.71a1.45,1.45 0 1,0 2.9,0a1.45,1.45 0 1,0 -2.9,0M196.72,420.74a1.45,1.45 0 1,0 2.9,0a1.45,1.45 0 1,0 -2.9,0M200.51,421.01a1.45,1.45 0 1,0 2.9,0a1.45,1.45 0 1,0 -2.9,0M204.31,420.79a1.45,1.45 0 1,0 2.9,0a1.45,1.45 0 1,0 -2.9,0M208.10,419.90a1.45,1.45 0 1,0 2.9,0a1.45,1.45 0 1,0 -2.9,0M211.90,419.90a1.45,1.45 0 1,0 2.9,0a1.45,1.45 0 1,0 -2.9,0M215.69,419.75a1.45,1.45 0 1,0 2.9,0a1.45,1.45 0 1,0 -2.9,0M219.49,419.69a1.45,1.45 0 1,0 2.9,0a1.45,1.45 0 1,0 -2.9,0M223.28,419.72a1.45,1.45 0 1,0 2.9,0a1.45,1.45 0 1,0 -2.9,0M227.08,419.36a1.45,1.45 0 1,0 2.9,0a1.45,1.45 0 1,0 -2.9,0M230.87,418.90a1.45,1.45 0 1,0 2.9,0a1.45,1.45 0 1,0 -2.9,0M234.67,418.57a1.45,1.45 0 1,0 2.9,0a1.45,1.45 0 1,0 -2.9,0M238.46,418.15a1.45,1.45 0 1,0 2.9,0a1.45,1.45 0 1,0 -2.9,0M242.26,417.85a1.45,1.45 0 1,0 2.9,0a1.45,1.45 0 1,0 -2.9,0M246.05,417.70a1.45,1.45 0 1,0 2.9,0a1.45,1.45 0 1,0 -2.9,0M249.85,417.47a1.45,1.45 0 1,0 2.9,0a1.45,1.45 0 1,0 -2.9,0M253.64,417.61a1.45,1.45 0 1,0 2.9,0a1.45,1.45 0 1,0 -2.9,0M257.44,417.72a1.45,1.45 0 1,0 2.9,0a1.45,1.45 0 1,0 -2.9,0M261.23,416.99a1.45,1.45 0 1,0 2.9,0a1.45,1.45 0 1,0 -2.9,0M265.03,416.90a1.45,1.45 0 1,0 2.9,0a1.45,1.45 0 1,0 -2.9,0M268.82,416.58a1.45,1.45 0 1,0 2.9,0a1.45,1.45 0 1,0 -2.9,0M272.62,416.24a1.45,1.45 0 1,0 2.9,0a1.45,1.45 0 1,0 -2.9,0M276.41,416.32a1.45,1.45 0 1,0 2.9,0a1.45,1.45 0 1,0 -2.9,0" fill="none" stroke="#0b8585" stroke-width="0.85"/>
<polyline points="54.72,436.83 55.47,434.57 56.23,432.65 56.99,430.95 57.74,429.40 58.50,427.97 59.26,426.64 60.01,425.38 60.77,424.19 61.53,423.05 62.28,421.97 63.04,420.92 63.80,419.91 64.55,418.94 65.31,417.99 66.06,417.08 66.82,416.19 67.58,415.32 68.33,414.47 69.09,413.64 69.85,412.84 70.60,412.05 71.36,411.27 72.12,410.51 72.87,409.77 73.63,409.04 74.39,408.32 75.14,407.61 75.90,406.92 76.66,406.23 77.41,405.56 78.17,404.89 78.92,404.24 79.68,403.59 80.44,402.96 81.19,402.33 81.95,401.71 82.71,401.10 83.46,400.49 84.22,399.89 84.98,399.30 85.73,398.72 86.49,398.14 87.25,397.57 88.00,397.00 88.76,396.44 89.52,395.89 90.27,395.34 91.03,394.80 91.78,394.26 92.54,393.73 93.30,393.20 94.05,392.68 94.81,392.16 95.57,391.64 96.32,391.13 97.08,390.63 97.84,390.12 98.59,389.63 99.35,389.13 100.11,388.64 100.86,388.16 101.62,387.67 102.38,387.19 103.13,386.72 103.89,386.25 104.64,385.78 105.40,385.31 106.16,384.85 106.91,384.39 107.67,383.94 108.43,383.48 109.18,383.03 109.94,382.59 110.70,382.14 111.45,381.70 112.21,381.26 112.97,380.82 113.72,380.39 114.48,379.96 115.23,379.53 115.99,379.10 116.75,378.68 117.50,378.26 118.26,377.84 119.02,377.42 119.77,377.01 120.53,376.60 121.29,376.19 122.04,375.78 122.80,375.38 123.56,374.97 124.31,374.57 125.07,374.17 125.83,373.77 126.58,373.38 127.34,372.98 128.09,372.59 128.85,372.20 129.61,371.82 130.36,371.43 131.12,371.05 131.88,370.66 132.63,370.28 133.39,369.90 134.15,369.53 134.90,369.15 135.66,368.78 136.42,368.40 137.17,368.03 137.93,367.66 138.69,367.30 139.44,366.93 140.20,366.57 140.95,366.20 141.71,365.84 142.47,365.48 143.22,365.12 143.98,364.77 144.74,364.41 145.49,364.06 146.25,363.70 147.01,363.35 147.76,363.00 148.52,362.65 149.28,362.30 150.03,361.96 150.79,361.61 151.55,361.27 152.30,360.93 153.06,360.59 153.81,360.25 154.57,359.91 155.33,359.57 156.08,359.23 156.84,358.90 157.60,358.56 158.35,358.23 159.11,357.90 159.87,357.57 160.62,357.24 161.38,356.91 162.14,356.58 162.89,356.26 163.65,355.93 164.40,355.61 165.16,355.28 165.92,354.96 166.67,354.64 167.43,354.32 168.19,354.00 168.94,353.68 169.70,353.37 170.46,353.05 171.21,352.74 171.97,352.42 172.73,352.11 173.48,351.80 174.24,351.48 175.00,351.17 175.75,350.86 176.51,350.56 177.26,350.25 178.02,349.94 178.78,349.64 179.53,349.33 180.29,349.03 181.05,348.72 181.80,348.42 182.56,348.12 183.32,347.82 184.07,347.52 184.83,347.22 185.59,346.92 186.34,346.62 187.10,346.33 187.86,346.03 188.61,345.74 189.37,345.44 190.12,345.15 190.88,344.86 191.64,344.56 192.39,344.27 193.15,343.98 193.91,343.69 194.66,343.40 195.42,343.12 196.18,342.83 196.93,342.54 197.69,342.26 198.45,341.97 199.20,341.69 199.96,341.40 200.72,341.12 201.47,340.84 202.23,340.55 202.98,340.27 203.74,339.99 204.50,339.71 205.25,339.43 206.01,339.15 206.77,338.88 207.52,338.60 208.28,338.32 209.04,338.05 209.79,337.77 210.55,337.50 211.31,337.22 212.06,336.95 212.82,336.68 213.57,336.40 214.33,336.13 215.09,335.86 215.84,335.59 216.60,335.32 217.36,335.05 218.11,334.78 218.87,334.52 219.63,334.25 220.38,333.98 221.14,333.72 221.90,333.45 222.65,333.18 223.41,332.92 224.17,332.66 224.92,332.39 225.68,332.13 226.43,331.87 227.19,331.61 227.95,331.34 228.70,331.08 229.46,330.82 230.22,330.56 230.97,330.30 231.73,330.05 232.49,329.79 233.24,329.53 234.00,329.27 234.76,329.02 235.51,328.76 236.27,328.51 237.03,328.25 237.78,328.00 238.54,327.74 239.29,327.49 240.05,327.24 240.81,326.98 241.56,326.73 242.32,326.48 243.08,326.23 243.83,325.98 244.59,325.73 245.35,325.48 246.10,325.23 246.86,324.98 247.62,324.73 248.37,324.48 249.13,324.24 249.89,323.99 250.64,323.74 251.40,323.50 252.15,323.25 252.91,323.01 253.67,322.76 254.42,322.52 255.18,322.27 255.94,322.03 256.69,321.79 257.45,321.54 258.21,321.30 258.96,321.06 259.72,320.82 260.48,320.58 261.23,320.34 261.99,320.10 262.74,319.86 263.50,319.62 264.26,319.38 265.01,319.14 265.77,318.90 266.53,318.67 267.28,318.43 268.04,318.19 268.80,317.96 269.55,317.72 270.31,317.48 271.07,317.25 271.82,317.01 272.58,316.78 273.34,316.55 274.09,316.31 274.85,316.08 275.60,315.85 276.36,315.61 277.12,315.38 277.87,315.15 278.63,314.92 279.39,314.69 280.14,314.46 280.90,314.23" fill="none" stroke="#000000" stroke-width="1.1" stroke-linejoin="round" />
<path d="M52.60,434.02h4.8l-2.4,3.84zM60.27,419.50h4.8l-2.4,3.84zM67.94,410.39h4.8l-2.4,3.84zM75.62,403.11h4.8l-2.4,3.84zM83.29,396.83h4.8l-2.4,3.84zM90.96,391.23h4.8l-2.4,3.84zM98.63,386.13h4.8l-2.4,3.84zM106.31,381.40h4.8l-2.4,3.84zM113.98,376.97h4.8l-2.4,3.84zM121.65,372.79h4.8l-2.4,3.84zM129.32,368.82h4.8l-2.4,3.84zM137.00,365.03h4.8l-2.4,3.84zM144.67,361.40h4.8l-2.4,3.84zM152.34,357.91h4.8l-2.4,3.84zM160.01,354.54h4.8l-2.4,3.84zM167.69,351.29h4.8l-2.4,3.84zM175.36,348.13h4.8l-2.4,3.84zM183.03,345.06h4.8l-2.4,3.84zM190.70,342.08h4.8l-2.4,3.84zM198.38,339.18h4.8l-2.4,3.84zM206.05,336.34h4.8l-2.4,3.84zM213.72,333.57h4.8l-2.4,3.84zM221.39,330.87h4.8l-2.4,3.84zM229.07,328.22h4.8l-2.4,3.84zM236.74,325.62h4.8l-2.4,3.84zM244.41,323.08h4.8l-2.4,3.84zM252.08,320.58h4.8l-2.4,3.84zM259.76,318.13h4.8l-2.4,3.84zM267.43,315.71h4.8l-2.4,3.84zM275.10,313.34h4.8l-2.4,3.84z" fill="#000000" stroke="#000000" stroke-width="0.4"/>
<path d="M60.5,281.3H79.7" stroke="#0b8585" stroke-width="1.3"/>
<circle cx="70.1" cy="281.3" r="1.6" fill="#fff" stroke="#0b8585" stroke-width="1"/>
<text x="83.0" y="284.05" font-size="8.9">Measured Ti</text>
<path d="M60.5,292.3H79.7" stroke="#ff0000" stroke-width="1.3"/>
<path d="M67.8,291.1h4.6l-2.3,3.6z" fill="#ff0000"/>
<text x="83.0" y="295.05" font-size="8.9">Measured Ti+Cu</text>
<path d="M60.5,303.3H66.3M73.89999999999999,303.3H79.7" stroke="#0000ff" stroke-width="1.3"/>
<circle cx="70.1" cy="303.3" r="1.9" fill="#0000ff"/>
<text x="83.0" y="306.05" font-size="8.9">Theoretical Ti</text>
<path d="M60.5,313.9H66.3M73.89999999999999,313.9H79.7" stroke="#000000" stroke-width="1.3"/>
<path d="M67.8,312.29999999999995h4.6l-2.3,3.8z" fill="#000000"/>
<text x="83.0" y="316.65" font-size="8.9">Theoretical Ti+Cu</text>
<text x="167.6" y="484.0" text-anchor="middle" font-size="14.5" font-weight="bold">Frequency (MHz)</text>
<text transform="translate(25.2,364.3) rotate(-90)" text-anchor="middle" font-size="15" font-weight="bold">Quality Factor</text>
<text x="152.5" y="501.0" text-anchor="middle" font-size="13" stroke="#000" stroke-width="0.25" style="font-family:&quot;Liberation Serif&quot;,serif">(c)</text>
</svg>
</body></html>
